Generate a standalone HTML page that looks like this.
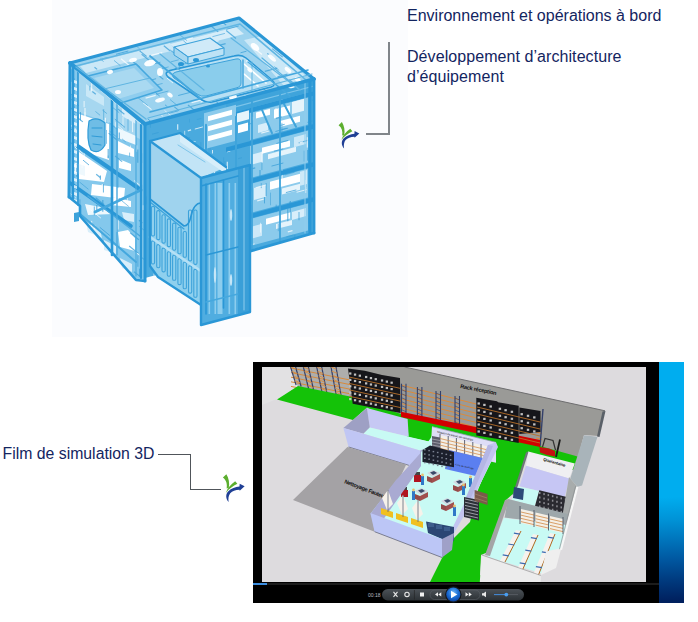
<!DOCTYPE html>
<html><head><meta charset="utf-8">
<style>
html,body{margin:0;padding:0;background:#fff;}
body{width:698px;height:622px;position:relative;overflow:hidden;font-family:"Liberation Sans",sans-serif;}
.t{position:absolute;white-space:nowrap;color:#13255f;font-family:"Liberation Sans",sans-serif;}
.abs{position:absolute;}
</style></head><body>
<!-- faint backdrop of CAD image -->
<div class="abs" style="left:52px;top:0;width:356px;height:337px;background:#fbfcfe"></div>

<!-- CAD model -->
<svg class="abs" style="left:0;top:0" width="400" height="340" viewBox="0 0 400 340" id="cad">
<polygon points="70.0,63.0 145.0,124.0 145.0,281.0 136.0,280.0 80.0,216.0 80.0,206.0 69.0,197.0" fill="#84c8ec" stroke="none" stroke-width="0" stroke-linejoin="round" opacity="1"/>
<polygon points="78.0,72.0 112.0,99.0 117.0,102.0 142.0,122.0 142.0,140.0 117.0,128.0 112.0,124.0 78.0,112.0" fill="#a6d7f0" stroke="none" stroke-width="0" stroke-linejoin="round" opacity="1"/>
<polygon points="86.0,84.0 104.0,97.0 104.0,106.0 86.0,96.0" fill="#c9e8f7" stroke="none" stroke-width="0" stroke-linejoin="round" opacity="1"/>
<polygon points="79.0,114.0 109.0,124.0 109.0,160.0 79.0,150.0" fill="#ffffff" stroke="none" stroke-width="0" stroke-linejoin="round" opacity="1"/>
<polygon points="118.0,128.0 136.0,136.0 136.0,145.0 118.0,138.0" fill="#eef8fd" stroke="none" stroke-width="0" stroke-linejoin="round" opacity="1"/>
<polygon points="79.0,152.0 107.0,171.0 104.0,182.0 79.0,179.0" fill="#ffffff" stroke="none" stroke-width="0" stroke-linejoin="round" opacity="1"/>
<polygon points="118.0,141.0 134.0,149.0 134.0,157.0 118.0,153.0" fill="#ffffff" stroke="none" stroke-width="0" stroke-linejoin="round" opacity="1"/>
<polygon points="119.0,159.0 131.0,164.0 131.0,171.0 119.0,168.0" fill="#ffffff" stroke="none" stroke-width="0" stroke-linejoin="round" opacity="1"/>
<polygon points="92.0,184.0 125.0,188.0 124.0,199.0 91.0,195.0" fill="#ffffff" stroke="none" stroke-width="0" stroke-linejoin="round" opacity="1"/>
<polygon points="111.0,197.0 131.0,201.0 131.0,207.0 111.0,205.0" fill="#ffffff" stroke="none" stroke-width="0" stroke-linejoin="round" opacity="1"/>
<polygon points="85.0,204.0 100.0,207.0 113.0,214.0 88.0,215.0" fill="#eef8fd" stroke="none" stroke-width="0" stroke-linejoin="round" opacity="1"/>
<polygon points="118.0,232.0 128.0,230.0 135.0,238.0 135.0,251.0 120.0,247.0" fill="#ffffff" stroke="none" stroke-width="0" stroke-linejoin="round" opacity="1"/>
<polygon points="73.0,162.0 85.0,166.0 85.0,176.0 73.0,172.0" fill="#eef8fd" stroke="none" stroke-width="0" stroke-linejoin="round" opacity="1"/>
<polygon points="122.0,212.0 134.0,214.0 134.0,222.0 124.0,220.0" fill="#d8eefa" stroke="none" stroke-width="0" stroke-linejoin="round" opacity="1"/>
<polygon points="86.0,222.0 100.0,230.0 102.0,238.0 88.0,232.0" fill="#d8eefa" stroke="none" stroke-width="0" stroke-linejoin="round" opacity="1"/>
<polygon points="104.0,240.0 116.0,246.0 116.0,254.0 104.0,250.0" fill="#d8eefa" stroke="none" stroke-width="0" stroke-linejoin="round" opacity="1"/>
<polygon points="120.0,258.0 132.0,264.0 132.0,272.0 122.0,268.0" fill="#d8eefa" stroke="none" stroke-width="0" stroke-linejoin="round" opacity="1"/>
<polygon points="122.0,104.0 136.0,114.0 136.0,124.0 122.0,116.0" fill="#d8eefa" stroke="none" stroke-width="0" stroke-linejoin="round" opacity="1"/>
<clipPath id="tl"><polygon points="70.0,63.0 145.0,124.0 145.0,281.0 136.0,280.0 80.0,216.0 80.0,206.0 69.0,197.0"/></clipPath>
<g clip-path="url(#tl)"><line x1="103.3" y1="184.3" x2="103.3" y2="192.4" stroke="#3a9fd8" stroke-width="1.2" opacity="0.75"/><line x1="82.8" y1="238.5" x2="75.2" y2="232.3" stroke="#ffffff" stroke-width="1.0" opacity="0.75"/><line x1="91.7" y1="80.1" x2="91.7" y2="90.8" stroke="#ffffff" stroke-width="1.0" opacity="0.75"/><line x1="143.3" y1="205.2" x2="143.3" y2="209.9" stroke="#ffffff" stroke-width="1.2" opacity="0.75"/><line x1="72.9" y1="67.9" x2="72.9" y2="77.5" stroke="#3a9fd8" stroke-width="1.0" opacity="0.75"/><line x1="102.4" y1="247.0" x2="102.4" y2="257.1" stroke="#3a9fd8" stroke-width="1.2" opacity="0.75"/><line x1="74.6" y1="205.4" x2="67.6" y2="199.6" stroke="#3a9fd8" stroke-width="0.8" opacity="0.75"/><line x1="123.2" y1="130.0" x2="118.4" y2="126.1" stroke="#ffffff" stroke-width="0.8" opacity="0.75"/><line x1="99.2" y1="247.9" x2="88.7" y2="239.4" stroke="#3a9fd8" stroke-width="0.8" opacity="0.75"/><line x1="84.7" y1="265.8" x2="79.1" y2="261.3" stroke="#3a9fd8" stroke-width="1.0" opacity="0.75"/><line x1="73.7" y1="199.7" x2="73.7" y2="205.7" stroke="#ffffff" stroke-width="1.0" opacity="0.75"/><line x1="69.2" y1="151.0" x2="69.2" y2="155.5" stroke="#3a9fd8" stroke-width="0.8" opacity="0.75"/><line x1="72.7" y1="236.9" x2="65.6" y2="231.2" stroke="#3a9fd8" stroke-width="0.8" opacity="0.75"/><line x1="144.9" y1="230.8" x2="139.2" y2="226.3" stroke="#3a9fd8" stroke-width="0.8" opacity="0.75"/><line x1="68.0" y1="251.9" x2="68.0" y2="261.4" stroke="#3a9fd8" stroke-width="0.8" opacity="0.75"/><line x1="84.4" y1="147.5" x2="84.4" y2="157.6" stroke="#ffffff" stroke-width="0.8" opacity="0.75"/><line x1="84.6" y1="117.3" x2="84.6" y2="124.0" stroke="#ffffff" stroke-width="0.8" opacity="0.75"/><line x1="73.8" y1="106.3" x2="73.8" y2="109.5" stroke="#3a9fd8" stroke-width="1.2" opacity="0.75"/><line x1="103.4" y1="272.9" x2="96.1" y2="267.0" stroke="#3a9fd8" stroke-width="0.8" opacity="0.75"/><line x1="116.9" y1="129.0" x2="109.4" y2="122.9" stroke="#3a9fd8" stroke-width="0.8" opacity="0.75"/><line x1="125.7" y1="268.8" x2="115.2" y2="260.3" stroke="#3a9fd8" stroke-width="1.2" opacity="0.75"/><line x1="74.1" y1="70.5" x2="67.4" y2="65.1" stroke="#ffffff" stroke-width="1.2" opacity="0.75"/><line x1="123.0" y1="117.0" x2="123.0" y2="126.6" stroke="#ffffff" stroke-width="0.8" opacity="0.75"/><line x1="140.5" y1="276.9" x2="134.1" y2="271.7" stroke="#3a9fd8" stroke-width="1.2" opacity="0.75"/><line x1="115.9" y1="122.2" x2="115.9" y2="127.5" stroke="#ffffff" stroke-width="1.0" opacity="0.75"/><line x1="100.1" y1="115.3" x2="95.4" y2="111.4" stroke="#3a9fd8" stroke-width="0.8" opacity="0.75"/><line x1="75.2" y1="90.7" x2="70.0" y2="86.5" stroke="#3a9fd8" stroke-width="1.2" opacity="0.75"/><line x1="113.6" y1="91.2" x2="111.1" y2="89.1" stroke="#3a9fd8" stroke-width="1.2" opacity="0.75"/><line x1="92.3" y1="67.4" x2="92.3" y2="71.3" stroke="#ffffff" stroke-width="1.0" opacity="0.75"/><line x1="92.9" y1="281.9" x2="85.9" y2="276.2" stroke="#3a9fd8" stroke-width="1.2" opacity="0.75"/><line x1="125.5" y1="88.8" x2="125.5" y2="95.5" stroke="#ffffff" stroke-width="1.0" opacity="0.75"/><line x1="138.3" y1="253.4" x2="129.2" y2="246.0" stroke="#3a9fd8" stroke-width="1.2" opacity="0.75"/><line x1="69.1" y1="207.0" x2="66.7" y2="205.0" stroke="#ffffff" stroke-width="0.8" opacity="0.75"/><line x1="117.9" y1="280.5" x2="117.9" y2="291.5" stroke="#3a9fd8" stroke-width="1.2" opacity="0.75"/><line x1="122.1" y1="161.6" x2="115.2" y2="156.0" stroke="#3a9fd8" stroke-width="1.2" opacity="0.75"/><line x1="70.3" y1="193.5" x2="66.0" y2="190.0" stroke="#3a9fd8" stroke-width="1.0" opacity="0.75"/><line x1="128.8" y1="206.5" x2="118.9" y2="198.4" stroke="#3a9fd8" stroke-width="0.8" opacity="0.75"/><line x1="120.9" y1="105.0" x2="110.8" y2="96.8" stroke="#3a9fd8" stroke-width="1.0" opacity="0.75"/><line x1="106.9" y1="113.6" x2="102.4" y2="110.0" stroke="#3a9fd8" stroke-width="0.8" opacity="0.75"/><line x1="136.7" y1="145.3" x2="136.7" y2="151.8" stroke="#ffffff" stroke-width="1.0" opacity="0.75"/><line x1="95.4" y1="258.8" x2="92.5" y2="256.5" stroke="#3a9fd8" stroke-width="0.8" opacity="0.75"/><line x1="76.8" y1="164.6" x2="76.8" y2="176.8" stroke="#3a9fd8" stroke-width="1.2" opacity="0.75"/><line x1="106.5" y1="130.0" x2="106.5" y2="143.8" stroke="#3a9fd8" stroke-width="0.8" opacity="0.75"/><line x1="132.6" y1="121.7" x2="132.6" y2="132.2" stroke="#ffffff" stroke-width="1.0" opacity="0.75"/><line x1="92.1" y1="235.7" x2="88.6" y2="232.9" stroke="#3a9fd8" stroke-width="0.8" opacity="0.75"/><line x1="128.0" y1="119.1" x2="128.0" y2="130.9" stroke="#3a9fd8" stroke-width="0.8" opacity="0.75"/><line x1="102.8" y1="199.9" x2="102.8" y2="211.7" stroke="#3a9fd8" stroke-width="1.2" opacity="0.75"/><line x1="83.4" y1="242.9" x2="75.0" y2="236.0" stroke="#3a9fd8" stroke-width="1.2" opacity="0.75"/><line x1="123.7" y1="99.8" x2="118.4" y2="95.5" stroke="#3a9fd8" stroke-width="1.2" opacity="0.75"/><line x1="107.0" y1="281.3" x2="97.5" y2="273.5" stroke="#3a9fd8" stroke-width="0.8" opacity="0.75"/><line x1="74.8" y1="267.0" x2="74.8" y2="271.5" stroke="#3a9fd8" stroke-width="1.2" opacity="0.75"/><line x1="137.2" y1="61.5" x2="137.2" y2="71.7" stroke="#3a9fd8" stroke-width="1.0" opacity="0.75"/><line x1="104.2" y1="204.6" x2="95.7" y2="197.7" stroke="#3a9fd8" stroke-width="1.2" opacity="0.75"/><line x1="140.1" y1="87.4" x2="134.4" y2="82.8" stroke="#ffffff" stroke-width="1.0" opacity="0.75"/><line x1="109.9" y1="235.6" x2="99.8" y2="227.3" stroke="#3a9fd8" stroke-width="1.0" opacity="0.75"/><line x1="107.4" y1="68.2" x2="101.4" y2="63.4" stroke="#ffffff" stroke-width="0.8" opacity="0.75"/><line x1="85.0" y1="252.6" x2="82.4" y2="250.5" stroke="#3a9fd8" stroke-width="1.2" opacity="0.75"/><line x1="129.5" y1="91.2" x2="122.7" y2="85.7" stroke="#3a9fd8" stroke-width="1.2" opacity="0.75"/><line x1="121.8" y1="270.0" x2="111.3" y2="261.5" stroke="#ffffff" stroke-width="0.8" opacity="0.75"/><line x1="102.3" y1="184.0" x2="102.3" y2="193.2" stroke="#ffffff" stroke-width="1.2" opacity="0.75"/><line x1="133.8" y1="184.3" x2="128.2" y2="179.8" stroke="#3a9fd8" stroke-width="1.2" opacity="0.75"/><line x1="84.2" y1="248.9" x2="84.2" y2="257.6" stroke="#3a9fd8" stroke-width="0.8" opacity="0.75"/><line x1="100.1" y1="85.4" x2="94.5" y2="80.9" stroke="#3a9fd8" stroke-width="0.8" opacity="0.75"/><line x1="108.2" y1="148.9" x2="108.2" y2="158.1" stroke="#3a9fd8" stroke-width="1.2" opacity="0.75"/><line x1="81.0" y1="266.6" x2="70.8" y2="258.4" stroke="#3a9fd8" stroke-width="1.0" opacity="0.75"/><line x1="89.0" y1="165.0" x2="83.0" y2="160.1" stroke="#3a9fd8" stroke-width="1.0" opacity="0.75"/><line x1="108.9" y1="84.1" x2="106.4" y2="82.0" stroke="#ffffff" stroke-width="1.2" opacity="0.75"/><line x1="128.8" y1="65.1" x2="124.5" y2="61.6" stroke="#3a9fd8" stroke-width="1.0" opacity="0.75"/><line x1="124.4" y1="114.3" x2="117.8" y2="108.9" stroke="#3a9fd8" stroke-width="1.2" opacity="0.75"/><line x1="116.6" y1="219.3" x2="116.6" y2="232.0" stroke="#ffffff" stroke-width="1.2" opacity="0.75"/><line x1="100.2" y1="177.5" x2="96.2" y2="174.2" stroke="#3a9fd8" stroke-width="1.2" opacity="0.75"/><line x1="85.0" y1="108.0" x2="85.0" y2="117.4" stroke="#ffffff" stroke-width="1.2" opacity="0.75"/><line x1="117.0" y1="137.2" x2="109.5" y2="131.1" stroke="#3a9fd8" stroke-width="0.8" opacity="0.75"/><line x1="85.0" y1="281.6" x2="85.0" y2="286.1" stroke="#ffffff" stroke-width="1.2" opacity="0.75"/><line x1="74.9" y1="146.1" x2="64.5" y2="137.7" stroke="#3a9fd8" stroke-width="1.2" opacity="0.75"/><line x1="77.8" y1="149.4" x2="77.8" y2="152.6" stroke="#ffffff" stroke-width="1.2" opacity="0.75"/><line x1="95.9" y1="242.3" x2="87.6" y2="235.5" stroke="#3a9fd8" stroke-width="1.0" opacity="0.75"/><line x1="107.2" y1="212.2" x2="104.3" y2="209.8" stroke="#ffffff" stroke-width="0.8" opacity="0.75"/><line x1="127.4" y1="196.2" x2="127.4" y2="204.5" stroke="#ffffff" stroke-width="0.8" opacity="0.75"/><line x1="83.9" y1="246.5" x2="83.9" y2="259.7" stroke="#ffffff" stroke-width="0.8" opacity="0.75"/><line x1="78.5" y1="211.2" x2="75.3" y2="208.6" stroke="#3a9fd8" stroke-width="1.0" opacity="0.75"/><line x1="108.2" y1="155.5" x2="108.2" y2="158.6" stroke="#3a9fd8" stroke-width="0.8" opacity="0.75"/><line x1="82.1" y1="160.8" x2="82.1" y2="168.2" stroke="#ffffff" stroke-width="0.8" opacity="0.75"/><line x1="75.4" y1="235.9" x2="72.3" y2="233.4" stroke="#3a9fd8" stroke-width="1.2" opacity="0.75"/><line x1="141.3" y1="186.5" x2="134.0" y2="180.5" stroke="#ffffff" stroke-width="1.0" opacity="0.75"/><line x1="89.8" y1="85.8" x2="89.8" y2="90.6" stroke="#3a9fd8" stroke-width="0.8" opacity="0.75"/><line x1="137.9" y1="255.3" x2="137.9" y2="266.8" stroke="#3a9fd8" stroke-width="1.0" opacity="0.75"/><line x1="84.1" y1="101.0" x2="84.1" y2="107.3" stroke="#ffffff" stroke-width="1.0" opacity="0.75"/><line x1="145.3" y1="260.4" x2="140.6" y2="256.6" stroke="#3a9fd8" stroke-width="1.0" opacity="0.75"/><line x1="94.3" y1="206.5" x2="94.3" y2="215.3" stroke="#3a9fd8" stroke-width="1.0" opacity="0.75"/><line x1="118.1" y1="215.7" x2="118.1" y2="229.5" stroke="#ffffff" stroke-width="1.2" opacity="0.75"/><line x1="76.4" y1="112.6" x2="69.8" y2="107.2" stroke="#3a9fd8" stroke-width="1.2" opacity="0.75"/><line x1="97.3" y1="81.9" x2="87.2" y2="73.7" stroke="#3a9fd8" stroke-width="1.2" opacity="0.75"/><line x1="100.4" y1="175.6" x2="100.4" y2="179.7" stroke="#3a9fd8" stroke-width="1.2" opacity="0.75"/><line x1="73.9" y1="192.7" x2="73.9" y2="196.1" stroke="#3a9fd8" stroke-width="0.8" opacity="0.75"/><line x1="98.1" y1="275.4" x2="98.1" y2="284.3" stroke="#3a9fd8" stroke-width="1.0" opacity="0.75"/><line x1="141.7" y1="153.4" x2="141.7" y2="163.0" stroke="#3a9fd8" stroke-width="1.0" opacity="0.75"/><line x1="105.7" y1="119.9" x2="105.7" y2="130.2" stroke="#3a9fd8" stroke-width="0.8" opacity="0.75"/><line x1="69.1" y1="114.4" x2="65.4" y2="111.4" stroke="#3a9fd8" stroke-width="1.0" opacity="0.75"/><line x1="72.1" y1="130.0" x2="64.8" y2="124.0" stroke="#3a9fd8" stroke-width="1.0" opacity="0.75"/><line x1="73.7" y1="261.0" x2="67.3" y2="255.8" stroke="#3a9fd8" stroke-width="0.8" opacity="0.75"/><line x1="71.5" y1="81.9" x2="71.5" y2="94.9" stroke="#ffffff" stroke-width="0.8" opacity="0.75"/><line x1="115.1" y1="85.6" x2="115.1" y2="93.6" stroke="#ffffff" stroke-width="0.8" opacity="0.75"/><line x1="95.8" y1="94.3" x2="92.3" y2="91.5" stroke="#3a9fd8" stroke-width="1.2" opacity="0.75"/><line x1="88.4" y1="189.3" x2="79.5" y2="182.0" stroke="#3a9fd8" stroke-width="0.8" opacity="0.75"/><line x1="142.3" y1="223.0" x2="139.0" y2="220.3" stroke="#3a9fd8" stroke-width="1.2" opacity="0.75"/><line x1="116.7" y1="139.7" x2="108.6" y2="133.1" stroke="#3a9fd8" stroke-width="1.2" opacity="0.75"/><line x1="82.8" y1="121.9" x2="72.4" y2="113.4" stroke="#3a9fd8" stroke-width="1.2" opacity="0.75"/><line x1="139.4" y1="255.1" x2="136.6" y2="252.8" stroke="#ffffff" stroke-width="1.0" opacity="0.75"/><line x1="70.1" y1="68.4" x2="65.4" y2="64.6" stroke="#3a9fd8" stroke-width="1.2" opacity="0.75"/><line x1="80.5" y1="112.1" x2="80.5" y2="120.4" stroke="#3a9fd8" stroke-width="1.0" opacity="0.75"/><line x1="94.8" y1="225.4" x2="94.8" y2="229.2" stroke="#ffffff" stroke-width="1.2" opacity="0.75"/><line x1="133.4" y1="230.7" x2="124.7" y2="223.6" stroke="#3a9fd8" stroke-width="0.8" opacity="0.75"/><line x1="96.8" y1="205.1" x2="96.8" y2="211.7" stroke="#3a9fd8" stroke-width="1.2" opacity="0.75"/><line x1="132.4" y1="100.8" x2="132.4" y2="110.2" stroke="#3a9fd8" stroke-width="1.0" opacity="0.75"/><line x1="74.1" y1="78.4" x2="74.1" y2="86.8" stroke="#3a9fd8" stroke-width="1.0" opacity="0.75"/><line x1="132.2" y1="62.1" x2="122.1" y2="53.8" stroke="#3a9fd8" stroke-width="1.2" opacity="0.75"/><line x1="91.7" y1="220.9" x2="91.7" y2="227.1" stroke="#ffffff" stroke-width="1.0" opacity="0.75"/><line x1="119.3" y1="132.6" x2="119.3" y2="139.2" stroke="#3a9fd8" stroke-width="1.2" opacity="0.75"/><line x1="139.6" y1="268.7" x2="139.6" y2="276.5" stroke="#3a9fd8" stroke-width="1.0" opacity="0.75"/><line x1="103.7" y1="109.1" x2="103.7" y2="120.1" stroke="#3a9fd8" stroke-width="0.8" opacity="0.75"/><line x1="96.2" y1="141.2" x2="90.5" y2="136.5" stroke="#3a9fd8" stroke-width="0.8" opacity="0.75"/><line x1="125.6" y1="141.8" x2="122.0" y2="138.8" stroke="#3a9fd8" stroke-width="0.8" opacity="0.75"/><line x1="81.8" y1="228.5" x2="81.8" y2="234.6" stroke="#ffffff" stroke-width="1.2" opacity="0.75"/><line x1="72.5" y1="95.2" x2="70.0" y2="93.2" stroke="#3a9fd8" stroke-width="1.0" opacity="0.75"/><line x1="73.0" y1="181.4" x2="73.0" y2="185.3" stroke="#ffffff" stroke-width="1.2" opacity="0.75"/><line x1="76.2" y1="129.7" x2="68.3" y2="123.2" stroke="#ffffff" stroke-width="1.2" opacity="0.75"/><line x1="100.9" y1="218.1" x2="90.8" y2="209.9" stroke="#ffffff" stroke-width="1.0" opacity="0.75"/><line x1="98.8" y1="135.0" x2="98.8" y2="145.4" stroke="#3a9fd8" stroke-width="1.2" opacity="0.75"/><line x1="130.8" y1="76.1" x2="130.8" y2="79.6" stroke="#3a9fd8" stroke-width="1.2" opacity="0.75"/><line x1="95.2" y1="60.9" x2="92.1" y2="58.3" stroke="#3a9fd8" stroke-width="1.2" opacity="0.75"/><line x1="117.9" y1="176.3" x2="117.9" y2="188.1" stroke="#3a9fd8" stroke-width="1.0" opacity="0.75"/><line x1="139.4" y1="114.5" x2="131.7" y2="108.2" stroke="#3a9fd8" stroke-width="1.0" opacity="0.75"/><line x1="83.9" y1="154.3" x2="73.3" y2="145.7" stroke="#ffffff" stroke-width="1.0" opacity="0.75"/><line x1="125.0" y1="127.4" x2="114.8" y2="119.1" stroke="#3a9fd8" stroke-width="1.0" opacity="0.75"/><line x1="69.3" y1="166.8" x2="69.3" y2="173.2" stroke="#ffffff" stroke-width="1.0" opacity="0.75"/><line x1="85.0" y1="112.3" x2="85.0" y2="121.8" stroke="#ffffff" stroke-width="0.8" opacity="0.75"/><line x1="137.8" y1="149.4" x2="137.8" y2="162.7" stroke="#3a9fd8" stroke-width="1.2" opacity="0.75"/><line x1="105.4" y1="117.8" x2="105.4" y2="130.9" stroke="#ffffff" stroke-width="1.2" opacity="0.75"/><line x1="128.2" y1="80.5" x2="128.2" y2="87.9" stroke="#ffffff" stroke-width="0.8" opacity="0.75"/><line x1="130.5" y1="145.5" x2="130.5" y2="154.1" stroke="#ffffff" stroke-width="0.8" opacity="0.75"/><line x1="119.3" y1="112.8" x2="112.9" y2="107.6" stroke="#3a9fd8" stroke-width="0.8" opacity="0.75"/><line x1="123.6" y1="194.5" x2="120.0" y2="191.6" stroke="#ffffff" stroke-width="1.0" opacity="0.75"/><line x1="138.8" y1="239.8" x2="130.2" y2="232.8" stroke="#3a9fd8" stroke-width="1.2" opacity="0.75"/><line x1="109.7" y1="93.4" x2="109.7" y2="96.5" stroke="#3a9fd8" stroke-width="0.8" opacity="0.75"/><line x1="132.1" y1="78.3" x2="123.7" y2="71.4" stroke="#ffffff" stroke-width="1.0" opacity="0.75"/><line x1="122.1" y1="78.4" x2="122.1" y2="87.4" stroke="#3a9fd8" stroke-width="0.8" opacity="0.75"/><line x1="129.6" y1="152.6" x2="129.6" y2="156.6" stroke="#3a9fd8" stroke-width="0.8" opacity="0.75"/><line x1="70.9" y1="151.7" x2="60.5" y2="143.3" stroke="#3a9fd8" stroke-width="1.0" opacity="0.75"/><line x1="92.2" y1="76.9" x2="85.9" y2="71.7" stroke="#3a9fd8" stroke-width="1.0" opacity="0.75"/><line x1="73.8" y1="91.2" x2="73.8" y2="101.6" stroke="#3a9fd8" stroke-width="0.8" opacity="0.75"/><line x1="119.0" y1="62.7" x2="110.6" y2="55.9" stroke="#ffffff" stroke-width="1.2" opacity="0.75"/><line x1="76.8" y1="231.3" x2="76.8" y2="243.6" stroke="#3a9fd8" stroke-width="1.2" opacity="0.75"/><line x1="79.9" y1="199.4" x2="79.9" y2="210.6" stroke="#3a9fd8" stroke-width="1.0" opacity="0.75"/><line x1="111.3" y1="79.3" x2="105.8" y2="74.8" stroke="#ffffff" stroke-width="1.0" opacity="0.75"/><line x1="141.7" y1="184.9" x2="141.7" y2="191.6" stroke="#3a9fd8" stroke-width="0.8" opacity="0.75"/><line x1="75.9" y1="198.0" x2="68.2" y2="191.8" stroke="#ffffff" stroke-width="0.8" opacity="0.75"/><line x1="99.4" y1="245.8" x2="99.4" y2="249.8" stroke="#ffffff" stroke-width="0.8" opacity="0.75"/><line x1="145.0" y1="156.3" x2="145.0" y2="163.1" stroke="#3a9fd8" stroke-width="1.2" opacity="0.75"/><line x1="78.8" y1="105.6" x2="70.6" y2="98.9" stroke="#3a9fd8" stroke-width="1.0" opacity="0.75"/></g>
<path d="M89,121 Q97,116 105,123 L105,145 Q99,155 91,150 Q86,140 89,121 Z" fill="#6fbde6" stroke="#2f9bd7" stroke-width="1.2" opacity="1" stroke-linejoin="round"/>
<line x1="92.0" y1="128.0" x2="102.0" y2="128.0" stroke="#2f9bd7" stroke-width="1" opacity="1" stroke-linecap="round"/>
<line x1="92.0" y1="136.0" x2="102.0" y2="137.0" stroke="#2f9bd7" stroke-width="1" opacity="1" stroke-linecap="round"/>
<line x1="93.0" y1="144.0" x2="101.0" y2="145.0" stroke="#2f9bd7" stroke-width="1" opacity="1" stroke-linecap="round"/>
<line x1="77.6" y1="146.0" x2="138.0" y2="188.0" stroke="#2a97d6" stroke-width="4" opacity="1" stroke-linecap="round"/>
<line x1="70.0" y1="183.0" x2="131.0" y2="226.0" stroke="#2a97d6" stroke-width="3.6" opacity="1" stroke-linecap="round"/>
<line x1="95.0" y1="212.0" x2="141.0" y2="190.0" stroke="#45a8de" stroke-width="3" opacity="1" stroke-linecap="round"/>
<line x1="80.0" y1="214.0" x2="136.0" y2="262.0" stroke="#45a8de" stroke-width="2" opacity="1" stroke-linecap="round"/>
<line x1="88.0" y1="196.0" x2="140.0" y2="236.0" stroke="#4aa9de" stroke-width="1.4" opacity="1" stroke-linecap="round"/>
<line x1="112.0" y1="98.0" x2="112.0" y2="255.0" stroke="#2a97d6" stroke-width="2.6" opacity="1" stroke-linecap="round"/>
<line x1="117.0" y1="102.0" x2="117.0" y2="255.0" stroke="#4aa9de" stroke-width="1.4" opacity="1" stroke-linecap="round"/>
<line x1="73.0" y1="68.0" x2="73.0" y2="198.0" stroke="#2a97d6" stroke-width="2.6" opacity="1" stroke-linecap="round"/>
<line x1="78.0" y1="72.0" x2="78.0" y2="205.0" stroke="#2a97d6" stroke-width="1.6" opacity="1" stroke-linecap="round"/>
<polygon points="74.0,80.0 77.0,81.0 77.0,84.0 74.0,83.0" fill="#ffffff" stroke="none" stroke-width="0" stroke-linejoin="round" opacity="0.75"/>
<polygon points="74.0,87.0 77.0,88.0 77.0,91.0 74.0,90.0" fill="#ffffff" stroke="none" stroke-width="0" stroke-linejoin="round" opacity="0.75"/>
<polygon points="74.0,94.0 77.0,95.0 77.0,98.0 74.0,97.0" fill="#ffffff" stroke="none" stroke-width="0" stroke-linejoin="round" opacity="0.75"/>
<polygon points="74.0,101.0 77.0,102.0 77.0,105.0 74.0,104.0" fill="#ffffff" stroke="none" stroke-width="0" stroke-linejoin="round" opacity="0.75"/>
<polygon points="74.0,108.0 77.0,109.0 77.0,112.0 74.0,111.0" fill="#ffffff" stroke="none" stroke-width="0" stroke-linejoin="round" opacity="0.75"/>
<polygon points="74.0,115.0 77.0,116.0 77.0,119.0 74.0,118.0" fill="#ffffff" stroke="none" stroke-width="0" stroke-linejoin="round" opacity="0.75"/>
<polygon points="74.0,122.0 77.0,123.0 77.0,126.0 74.0,125.0" fill="#ffffff" stroke="none" stroke-width="0" stroke-linejoin="round" opacity="0.75"/>
<polygon points="74.0,129.0 77.0,130.0 77.0,133.0 74.0,132.0" fill="#ffffff" stroke="none" stroke-width="0" stroke-linejoin="round" opacity="0.75"/>
<polygon points="74.0,136.0 77.0,137.0 77.0,140.0 74.0,139.0" fill="#ffffff" stroke="none" stroke-width="0" stroke-linejoin="round" opacity="0.75"/>
<polygon points="74.0,143.0 77.0,144.0 77.0,147.0 74.0,146.0" fill="#ffffff" stroke="none" stroke-width="0" stroke-linejoin="round" opacity="0.75"/>
<polygon points="74.0,150.0 77.0,151.0 77.0,154.0 74.0,153.0" fill="#ffffff" stroke="none" stroke-width="0" stroke-linejoin="round" opacity="0.75"/>
<polygon points="74.0,157.0 77.0,158.0 77.0,161.0 74.0,160.0" fill="#ffffff" stroke="none" stroke-width="0" stroke-linejoin="round" opacity="0.75"/>
<polygon points="74.0,164.0 77.0,165.0 77.0,168.0 74.0,167.0" fill="#ffffff" stroke="none" stroke-width="0" stroke-linejoin="round" opacity="0.75"/>
<polygon points="74.0,171.0 77.0,172.0 77.0,175.0 74.0,174.0" fill="#ffffff" stroke="none" stroke-width="0" stroke-linejoin="round" opacity="0.75"/>
<polygon points="74.0,178.0 77.0,179.0 77.0,182.0 74.0,181.0" fill="#ffffff" stroke="none" stroke-width="0" stroke-linejoin="round" opacity="0.75"/>
<polygon points="74.0,185.0 77.0,186.0 77.0,189.0 74.0,188.0" fill="#ffffff" stroke="none" stroke-width="0" stroke-linejoin="round" opacity="0.75"/>
<polygon points="74.0,192.0 77.0,193.0 77.0,196.0 74.0,195.0" fill="#ffffff" stroke="none" stroke-width="0" stroke-linejoin="round" opacity="0.75"/>
<polygon points="74.0,199.0 77.0,200.0 77.0,203.0 74.0,202.0" fill="#ffffff" stroke="none" stroke-width="0" stroke-linejoin="round" opacity="0.75"/>
<line x1="141.0" y1="124.0" x2="141.0" y2="278.0" stroke="#2a97d6" stroke-width="2.2" opacity="1" stroke-linecap="round"/>
<line x1="136.0" y1="120.0" x2="136.0" y2="276.0" stroke="#4aa9de" stroke-width="1.2" opacity="1" stroke-linecap="round"/>
<line x1="76.0" y1="70.0" x2="141.0" y2="124.0" stroke="#d5ecf8" stroke-width="1.0" opacity="1" stroke-linecap="round"/>
<polygon points="145.0,124.0 314.0,79.0 314.0,233.0 145.0,278.0" fill="#4aaade" stroke="none" stroke-width="0" stroke-linejoin="round" opacity="1"/>
<polygon points="250.0,113.0 308.0,97.6 308.0,124.6 250.0,140.0" fill="#8ccbec" stroke="none" stroke-width="0" stroke-linejoin="round" opacity="1"/>
<polygon points="250.0,146.0 308.0,130.6 308.0,162.6 250.0,178.0" fill="#8ccbec" stroke="none" stroke-width="0" stroke-linejoin="round" opacity="1"/>
<polygon points="250.0,184.0 308.0,168.6 308.0,197.6 250.0,213.0" fill="#8ccbec" stroke="none" stroke-width="0" stroke-linejoin="round" opacity="1"/>
<polygon points="250.0,219.0 308.0,203.6 308.0,230.6 250.0,246.0" fill="#8ccbec" stroke="none" stroke-width="0" stroke-linejoin="round" opacity="1"/>
<polygon points="256.0,112.4 270.0,108.7 270.0,114.7 256.0,118.4" fill="#ffffff" stroke="none" stroke-width="0" stroke-linejoin="round" opacity="1"/>
<polygon points="274.0,109.6 290.0,105.4 290.0,114.4 274.0,118.6" fill="#ffffff" stroke="none" stroke-width="0" stroke-linejoin="round" opacity="1"/>
<polygon points="292.0,101.9 304.0,98.7 304.0,110.7 292.0,113.9" fill="#e6f4fb" stroke="none" stroke-width="0" stroke-linejoin="round" opacity="1"/>
<polygon points="258.0,124.9 268.0,122.2 268.0,130.2 258.0,132.9" fill="#d8eefa" stroke="none" stroke-width="0" stroke-linejoin="round" opacity="1"/>
<polygon points="280.0,121.0 300.0,115.7 300.0,121.7 280.0,127.0" fill="#ffffff" stroke="none" stroke-width="0" stroke-linejoin="round" opacity="1"/>
<polygon points="262.0,147.8 290.0,140.4 290.0,146.4 262.0,153.8" fill="#ffffff" stroke="none" stroke-width="0" stroke-linejoin="round" opacity="1"/>
<polygon points="268.0,154.2 296.0,146.8 296.0,151.8 268.0,159.2" fill="#e6f4fb" stroke="none" stroke-width="0" stroke-linejoin="round" opacity="1"/>
<polygon points="294.0,137.3 306.0,134.1 306.0,144.1 294.0,147.3" fill="#cde9f8" stroke="none" stroke-width="0" stroke-linejoin="round" opacity="1"/>
<polygon points="252.0,154.5 262.0,151.8 262.0,161.8 252.0,164.5" fill="#d8eefa" stroke="none" stroke-width="0" stroke-linejoin="round" opacity="1"/>
<polygon points="270.0,181.7 302.0,173.2 302.0,181.2 270.0,189.7" fill="#ffffff" stroke="none" stroke-width="0" stroke-linejoin="round" opacity="1"/>
<polygon points="282.0,188.5 300.0,183.7 300.0,189.7 282.0,194.5" fill="#e6f4fb" stroke="none" stroke-width="0" stroke-linejoin="round" opacity="1"/>
<polygon points="254.0,188.0 266.0,184.8 266.0,196.8 254.0,200.0" fill="#d8eefa" stroke="none" stroke-width="0" stroke-linejoin="round" opacity="1"/>
<polygon points="300.0,171.7 307.0,169.9 307.0,183.9 300.0,185.7" fill="#cde9f8" stroke="none" stroke-width="0" stroke-linejoin="round" opacity="1"/>
<polygon points="266.0,218.8 290.0,212.4 290.0,218.4 266.0,224.8" fill="#ffffff" stroke="none" stroke-width="0" stroke-linejoin="round" opacity="1"/>
<polygon points="276.0,224.1 292.0,219.9 292.0,224.9 276.0,229.1" fill="#e6f4fb" stroke="none" stroke-width="0" stroke-linejoin="round" opacity="1"/>
<polygon points="292.0,211.9 306.0,208.1 306.0,216.1 292.0,219.9" fill="#d8eefa" stroke="none" stroke-width="0" stroke-linejoin="round" opacity="1"/>
<polygon points="252.0,226.5 262.0,223.8 262.0,235.8 252.0,238.5" fill="#cde9f8" stroke="none" stroke-width="0" stroke-linejoin="round" opacity="1"/>
<line x1="262.0" y1="109.8" x2="272.0" y2="133.2" stroke="#3fa4db" stroke-width="2" opacity="1" stroke-linecap="round"/>
<line x1="284.0" y1="104.0" x2="296.0" y2="126.8" stroke="#3fa4db" stroke-width="2" opacity="1" stroke-linecap="round"/>
<clipPath id="tr"><polygon points="145.0,124.0 314.0,79.0 314.0,233.0 145.0,278.0"/></clipPath>
<g clip-path="url(#tr)"><line x1="250.9" y1="224.8" x2="250.9" y2="231.3" stroke="#3a9fd8" stroke-width="0.8" opacity="0.75"/><line x1="257.2" y1="200.9" x2="263.7" y2="199.2" stroke="#ffffff" stroke-width="1.2" opacity="0.75"/><line x1="220.0" y1="190.6" x2="226.4" y2="188.8" stroke="#ffffff" stroke-width="0.8" opacity="0.75"/><line x1="248.9" y1="110.0" x2="248.9" y2="122.9" stroke="#3a9fd8" stroke-width="1.0" opacity="0.75"/><line x1="249.0" y1="181.7" x2="249.0" y2="186.9" stroke="#3a9fd8" stroke-width="1.2" opacity="0.75"/><line x1="265.2" y1="267.1" x2="265.2" y2="270.3" stroke="#3a9fd8" stroke-width="0.8" opacity="0.75"/><line x1="168.2" y1="174.5" x2="174.6" y2="172.8" stroke="#ffffff" stroke-width="1.0" opacity="0.75"/><line x1="190.2" y1="256.4" x2="200.9" y2="253.5" stroke="#ffffff" stroke-width="1.2" opacity="0.75"/><line x1="237.4" y1="191.3" x2="237.4" y2="197.2" stroke="#3a9fd8" stroke-width="1.0" opacity="0.75"/><line x1="247.3" y1="102.8" x2="247.3" y2="109.0" stroke="#3a9fd8" stroke-width="0.8" opacity="0.75"/><line x1="273.9" y1="151.3" x2="283.2" y2="148.9" stroke="#3a9fd8" stroke-width="1.0" opacity="0.75"/><line x1="150.4" y1="114.4" x2="150.4" y2="127.7" stroke="#3a9fd8" stroke-width="1.0" opacity="0.75"/><line x1="273.5" y1="249.2" x2="273.5" y2="258.9" stroke="#3a9fd8" stroke-width="0.8" opacity="0.75"/><line x1="172.0" y1="161.2" x2="180.5" y2="159.0" stroke="#ffffff" stroke-width="1.0" opacity="0.75"/><line x1="174.5" y1="183.0" x2="183.5" y2="180.6" stroke="#ffffff" stroke-width="1.2" opacity="0.75"/><line x1="278.3" y1="223.8" x2="278.3" y2="231.2" stroke="#3a9fd8" stroke-width="0.8" opacity="0.75"/><line x1="224.9" y1="161.1" x2="224.9" y2="171.7" stroke="#3a9fd8" stroke-width="1.0" opacity="0.75"/><line x1="227.6" y1="278.9" x2="227.6" y2="291.3" stroke="#3a9fd8" stroke-width="1.0" opacity="0.75"/><line x1="165.0" y1="101.2" x2="165.0" y2="107.8" stroke="#3a9fd8" stroke-width="1.0" opacity="0.75"/><line x1="298.7" y1="142.8" x2="309.3" y2="140.0" stroke="#3a9fd8" stroke-width="1.2" opacity="0.75"/><line x1="209.0" y1="143.0" x2="209.0" y2="155.7" stroke="#3a9fd8" stroke-width="0.8" opacity="0.75"/><line x1="166.2" y1="168.3" x2="166.2" y2="175.6" stroke="#ffffff" stroke-width="1.2" opacity="0.75"/><line x1="162.9" y1="261.8" x2="162.9" y2="272.0" stroke="#3a9fd8" stroke-width="0.8" opacity="0.75"/><line x1="314.9" y1="225.6" x2="314.9" y2="232.7" stroke="#3a9fd8" stroke-width="1.2" opacity="0.75"/><line x1="281.9" y1="122.8" x2="281.9" y2="132.0" stroke="#3a9fd8" stroke-width="0.8" opacity="0.75"/><line x1="233.3" y1="104.3" x2="233.3" y2="113.6" stroke="#3a9fd8" stroke-width="1.0" opacity="0.75"/><line x1="186.5" y1="138.5" x2="190.0" y2="137.5" stroke="#3a9fd8" stroke-width="1.2" opacity="0.75"/><line x1="212.5" y1="150.0" x2="212.5" y2="153.5" stroke="#ffffff" stroke-width="1.0" opacity="0.75"/><line x1="197.3" y1="178.7" x2="197.3" y2="192.4" stroke="#3a9fd8" stroke-width="0.8" opacity="0.75"/><line x1="179.5" y1="251.5" x2="179.5" y2="255.2" stroke="#ffffff" stroke-width="1.0" opacity="0.75"/><line x1="297.9" y1="81.2" x2="297.9" y2="91.9" stroke="#3a9fd8" stroke-width="1.2" opacity="0.75"/><line x1="252.5" y1="116.7" x2="252.5" y2="120.2" stroke="#ffffff" stroke-width="1.2" opacity="0.75"/><line x1="284.0" y1="272.2" x2="291.4" y2="270.2" stroke="#3a9fd8" stroke-width="1.0" opacity="0.75"/><line x1="263.3" y1="267.4" x2="267.1" y2="266.4" stroke="#ffffff" stroke-width="1.0" opacity="0.75"/><line x1="165.5" y1="217.6" x2="176.1" y2="214.8" stroke="#3a9fd8" stroke-width="1.0" opacity="0.75"/><line x1="279.4" y1="153.2" x2="279.4" y2="166.0" stroke="#3a9fd8" stroke-width="0.8" opacity="0.75"/><line x1="311.1" y1="258.9" x2="316.4" y2="257.5" stroke="#ffffff" stroke-width="1.2" opacity="0.75"/><line x1="160.3" y1="276.6" x2="168.8" y2="274.3" stroke="#3a9fd8" stroke-width="0.8" opacity="0.75"/><line x1="146.2" y1="196.5" x2="146.2" y2="204.1" stroke="#3a9fd8" stroke-width="0.8" opacity="0.75"/><line x1="193.5" y1="230.6" x2="199.3" y2="229.1" stroke="#3a9fd8" stroke-width="0.8" opacity="0.75"/><line x1="279.4" y1="108.5" x2="279.4" y2="118.3" stroke="#3a9fd8" stroke-width="1.2" opacity="0.75"/><line x1="210.4" y1="265.7" x2="215.2" y2="264.4" stroke="#3a9fd8" stroke-width="1.2" opacity="0.75"/><line x1="299.6" y1="142.8" x2="302.9" y2="141.9" stroke="#ffffff" stroke-width="1.2" opacity="0.75"/><line x1="261.3" y1="183.1" x2="261.3" y2="188.1" stroke="#3a9fd8" stroke-width="0.8" opacity="0.75"/><line x1="164.1" y1="166.0" x2="164.1" y2="175.0" stroke="#ffffff" stroke-width="1.2" opacity="0.75"/><line x1="279.5" y1="125.7" x2="284.7" y2="124.3" stroke="#3a9fd8" stroke-width="1.0" opacity="0.75"/><line x1="189.4" y1="118.9" x2="189.4" y2="122.5" stroke="#3a9fd8" stroke-width="0.8" opacity="0.75"/><line x1="200.3" y1="200.9" x2="200.3" y2="212.7" stroke="#3a9fd8" stroke-width="1.2" opacity="0.75"/><line x1="189.7" y1="239.3" x2="202.2" y2="236.0" stroke="#3a9fd8" stroke-width="1.2" opacity="0.75"/><line x1="243.5" y1="223.9" x2="243.5" y2="227.5" stroke="#3a9fd8" stroke-width="1.2" opacity="0.75"/><line x1="198.4" y1="203.5" x2="198.4" y2="209.4" stroke="#3a9fd8" stroke-width="0.8" opacity="0.75"/><line x1="255.5" y1="181.1" x2="261.0" y2="179.7" stroke="#3a9fd8" stroke-width="1.2" opacity="0.75"/><line x1="286.3" y1="236.9" x2="293.5" y2="235.0" stroke="#3a9fd8" stroke-width="0.8" opacity="0.75"/><line x1="264.6" y1="271.4" x2="275.6" y2="268.4" stroke="#3a9fd8" stroke-width="0.8" opacity="0.75"/><line x1="169.6" y1="170.0" x2="169.6" y2="173.4" stroke="#ffffff" stroke-width="1.2" opacity="0.75"/><line x1="169.1" y1="157.4" x2="176.5" y2="155.4" stroke="#ffffff" stroke-width="0.8" opacity="0.75"/><line x1="260.6" y1="222.8" x2="260.6" y2="232.6" stroke="#ffffff" stroke-width="0.8" opacity="0.75"/><line x1="238.8" y1="126.8" x2="251.6" y2="123.4" stroke="#3a9fd8" stroke-width="1.0" opacity="0.75"/><line x1="305.9" y1="264.5" x2="310.5" y2="263.3" stroke="#3a9fd8" stroke-width="0.8" opacity="0.75"/><line x1="270.4" y1="192.6" x2="270.4" y2="205.3" stroke="#3a9fd8" stroke-width="0.8" opacity="0.75"/><line x1="223.6" y1="157.4" x2="223.6" y2="164.6" stroke="#3a9fd8" stroke-width="0.8" opacity="0.75"/><line x1="216.1" y1="127.8" x2="216.1" y2="139.6" stroke="#3a9fd8" stroke-width="1.0" opacity="0.75"/><line x1="181.5" y1="172.5" x2="189.1" y2="170.4" stroke="#3a9fd8" stroke-width="1.2" opacity="0.75"/><line x1="175.9" y1="176.4" x2="175.9" y2="184.0" stroke="#ffffff" stroke-width="1.0" opacity="0.75"/><line x1="206.7" y1="133.5" x2="211.5" y2="132.2" stroke="#ffffff" stroke-width="1.0" opacity="0.75"/><line x1="241.5" y1="209.2" x2="245.5" y2="208.1" stroke="#ffffff" stroke-width="1.2" opacity="0.75"/><line x1="304.2" y1="150.7" x2="304.2" y2="161.6" stroke="#3a9fd8" stroke-width="0.8" opacity="0.75"/><line x1="314.7" y1="247.4" x2="326.6" y2="244.3" stroke="#3a9fd8" stroke-width="1.0" opacity="0.75"/><line x1="276.0" y1="182.9" x2="283.1" y2="181.0" stroke="#ffffff" stroke-width="0.8" opacity="0.75"/><line x1="176.9" y1="181.8" x2="182.0" y2="180.4" stroke="#3a9fd8" stroke-width="1.0" opacity="0.75"/><line x1="237.5" y1="105.5" x2="237.5" y2="111.3" stroke="#3a9fd8" stroke-width="1.2" opacity="0.75"/><line x1="209.1" y1="255.8" x2="209.1" y2="264.7" stroke="#3a9fd8" stroke-width="0.8" opacity="0.75"/><line x1="210.7" y1="252.9" x2="216.7" y2="251.3" stroke="#ffffff" stroke-width="0.8" opacity="0.75"/><line x1="168.9" y1="249.3" x2="168.9" y2="257.6" stroke="#ffffff" stroke-width="1.2" opacity="0.75"/><line x1="195.7" y1="213.4" x2="195.7" y2="218.8" stroke="#3a9fd8" stroke-width="1.2" opacity="0.75"/><line x1="165.8" y1="234.5" x2="177.0" y2="231.5" stroke="#ffffff" stroke-width="1.0" opacity="0.75"/><line x1="165.4" y1="177.6" x2="178.2" y2="174.2" stroke="#ffffff" stroke-width="1.2" opacity="0.75"/><line x1="192.6" y1="110.0" x2="200.5" y2="107.9" stroke="#ffffff" stroke-width="1.2" opacity="0.75"/><line x1="266.1" y1="183.1" x2="266.1" y2="196.1" stroke="#3a9fd8" stroke-width="1.0" opacity="0.75"/><line x1="244.0" y1="219.7" x2="244.0" y2="230.4" stroke="#ffffff" stroke-width="1.0" opacity="0.75"/><line x1="165.5" y1="261.8" x2="165.5" y2="267.7" stroke="#3a9fd8" stroke-width="1.2" opacity="0.75"/><line x1="196.0" y1="223.3" x2="196.0" y2="227.1" stroke="#ffffff" stroke-width="1.0" opacity="0.75"/><line x1="296.6" y1="192.3" x2="306.6" y2="189.6" stroke="#ffffff" stroke-width="1.0" opacity="0.75"/><line x1="210.4" y1="147.0" x2="210.4" y2="150.3" stroke="#3a9fd8" stroke-width="0.8" opacity="0.75"/><line x1="276.2" y1="204.7" x2="276.2" y2="212.2" stroke="#3a9fd8" stroke-width="1.0" opacity="0.75"/><line x1="156.6" y1="171.7" x2="169.8" y2="168.2" stroke="#3a9fd8" stroke-width="0.8" opacity="0.75"/><line x1="261.2" y1="133.1" x2="269.1" y2="131.0" stroke="#ffffff" stroke-width="1.2" opacity="0.75"/><line x1="177.7" y1="124.2" x2="177.7" y2="129.7" stroke="#ffffff" stroke-width="1.2" opacity="0.75"/><line x1="311.6" y1="78.7" x2="311.6" y2="91.0" stroke="#3a9fd8" stroke-width="0.8" opacity="0.75"/><line x1="251.1" y1="191.3" x2="251.1" y2="204.9" stroke="#ffffff" stroke-width="1.0" opacity="0.75"/><line x1="162.7" y1="81.9" x2="162.7" y2="87.2" stroke="#3a9fd8" stroke-width="0.8" opacity="0.75"/><line x1="308.9" y1="244.5" x2="318.4" y2="242.0" stroke="#3a9fd8" stroke-width="1.2" opacity="0.75"/><line x1="194.9" y1="161.8" x2="204.9" y2="159.1" stroke="#3a9fd8" stroke-width="1.2" opacity="0.75"/><line x1="187.4" y1="143.6" x2="195.7" y2="141.4" stroke="#ffffff" stroke-width="0.8" opacity="0.75"/><line x1="313.2" y1="243.2" x2="313.2" y2="249.6" stroke="#3a9fd8" stroke-width="1.2" opacity="0.75"/><line x1="276.3" y1="175.1" x2="288.4" y2="171.9" stroke="#3a9fd8" stroke-width="0.8" opacity="0.75"/><line x1="203.6" y1="158.3" x2="203.6" y2="168.9" stroke="#ffffff" stroke-width="1.2" opacity="0.75"/><line x1="187.8" y1="222.6" x2="194.3" y2="220.9" stroke="#3a9fd8" stroke-width="1.2" opacity="0.75"/><line x1="285.9" y1="192.6" x2="296.3" y2="189.9" stroke="#3a9fd8" stroke-width="1.0" opacity="0.75"/><line x1="281.2" y1="103.3" x2="291.2" y2="100.6" stroke="#ffffff" stroke-width="0.8" opacity="0.75"/><line x1="310.5" y1="173.3" x2="310.5" y2="185.0" stroke="#3a9fd8" stroke-width="1.0" opacity="0.75"/><line x1="261.9" y1="162.7" x2="261.9" y2="170.1" stroke="#3a9fd8" stroke-width="0.8" opacity="0.75"/><line x1="153.3" y1="222.1" x2="156.6" y2="221.2" stroke="#ffffff" stroke-width="1.2" opacity="0.75"/><line x1="236.5" y1="239.9" x2="249.1" y2="236.6" stroke="#3a9fd8" stroke-width="1.0" opacity="0.75"/><line x1="174.1" y1="91.6" x2="186.3" y2="88.4" stroke="#3a9fd8" stroke-width="0.8" opacity="0.75"/><line x1="211.6" y1="202.8" x2="211.6" y2="216.6" stroke="#3a9fd8" stroke-width="1.2" opacity="0.75"/><line x1="181.8" y1="135.1" x2="181.8" y2="143.0" stroke="#3a9fd8" stroke-width="1.2" opacity="0.75"/><line x1="303.7" y1="128.8" x2="307.9" y2="127.7" stroke="#ffffff" stroke-width="0.8" opacity="0.75"/><line x1="190.9" y1="192.9" x2="198.1" y2="191.0" stroke="#ffffff" stroke-width="0.8" opacity="0.75"/><line x1="227.0" y1="151.9" x2="230.4" y2="151.0" stroke="#ffffff" stroke-width="1.0" opacity="0.75"/><line x1="258.9" y1="78.8" x2="263.3" y2="77.6" stroke="#3a9fd8" stroke-width="1.0" opacity="0.75"/><line x1="227.3" y1="161.7" x2="227.3" y2="169.1" stroke="#ffffff" stroke-width="1.2" opacity="0.75"/><line x1="249.8" y1="245.1" x2="254.7" y2="243.8" stroke="#ffffff" stroke-width="0.8" opacity="0.75"/><line x1="314.0" y1="167.5" x2="314.0" y2="178.5" stroke="#ffffff" stroke-width="0.8" opacity="0.75"/><line x1="305.6" y1="186.9" x2="305.6" y2="192.9" stroke="#ffffff" stroke-width="1.2" opacity="0.75"/><line x1="197.7" y1="181.9" x2="202.8" y2="180.5" stroke="#3a9fd8" stroke-width="0.8" opacity="0.75"/><line x1="275.4" y1="131.5" x2="288.1" y2="128.1" stroke="#3a9fd8" stroke-width="1.0" opacity="0.75"/><line x1="281.5" y1="245.2" x2="281.5" y2="259.0" stroke="#ffffff" stroke-width="1.0" opacity="0.75"/><line x1="213.4" y1="220.5" x2="226.0" y2="217.1" stroke="#ffffff" stroke-width="1.2" opacity="0.75"/><line x1="168.9" y1="143.4" x2="168.9" y2="151.9" stroke="#ffffff" stroke-width="1.0" opacity="0.75"/><line x1="251.6" y1="168.9" x2="255.2" y2="167.9" stroke="#3a9fd8" stroke-width="1.2" opacity="0.75"/><line x1="161.0" y1="145.6" x2="161.0" y2="151.0" stroke="#3a9fd8" stroke-width="1.2" opacity="0.75"/><line x1="196.8" y1="119.6" x2="201.3" y2="118.4" stroke="#3a9fd8" stroke-width="0.8" opacity="0.75"/><line x1="218.2" y1="79.9" x2="218.2" y2="87.3" stroke="#ffffff" stroke-width="1.2" opacity="0.75"/><line x1="287.8" y1="231.8" x2="292.5" y2="230.6" stroke="#ffffff" stroke-width="1.2" opacity="0.75"/><line x1="163.4" y1="277.5" x2="176.6" y2="274.0" stroke="#ffffff" stroke-width="1.0" opacity="0.75"/><line x1="277.7" y1="257.3" x2="277.7" y2="261.1" stroke="#3a9fd8" stroke-width="1.0" opacity="0.75"/><line x1="294.8" y1="235.1" x2="294.8" y2="238.2" stroke="#3a9fd8" stroke-width="1.2" opacity="0.75"/><line x1="209.3" y1="208.1" x2="218.7" y2="205.5" stroke="#3a9fd8" stroke-width="1.2" opacity="0.75"/><line x1="251.9" y1="180.0" x2="251.9" y2="184.2" stroke="#3a9fd8" stroke-width="1.2" opacity="0.75"/><line x1="271.5" y1="166.1" x2="283.3" y2="163.0" stroke="#3a9fd8" stroke-width="1.0" opacity="0.75"/><line x1="247.1" y1="193.7" x2="247.1" y2="197.1" stroke="#3a9fd8" stroke-width="1.0" opacity="0.75"/><line x1="193.3" y1="87.3" x2="199.7" y2="85.6" stroke="#3a9fd8" stroke-width="1.0" opacity="0.75"/><line x1="313.8" y1="227.1" x2="324.5" y2="224.2" stroke="#3a9fd8" stroke-width="1.0" opacity="0.75"/><line x1="153.9" y1="273.6" x2="153.9" y2="286.4" stroke="#ffffff" stroke-width="0.8" opacity="0.75"/><line x1="287.8" y1="209.1" x2="287.8" y2="221.3" stroke="#3a9fd8" stroke-width="1.2" opacity="0.75"/><line x1="187.8" y1="130.8" x2="191.1" y2="129.9" stroke="#ffffff" stroke-width="1.2" opacity="0.75"/><line x1="282.2" y1="169.7" x2="282.2" y2="182.2" stroke="#ffffff" stroke-width="1.0" opacity="0.75"/><line x1="308.5" y1="126.2" x2="316.1" y2="124.2" stroke="#3a9fd8" stroke-width="0.8" opacity="0.75"/><line x1="157.3" y1="178.3" x2="169.4" y2="175.1" stroke="#3a9fd8" stroke-width="0.8" opacity="0.75"/><line x1="280.4" y1="108.7" x2="284.4" y2="107.6" stroke="#ffffff" stroke-width="1.0" opacity="0.75"/><line x1="307.4" y1="122.4" x2="314.7" y2="120.4" stroke="#3a9fd8" stroke-width="0.8" opacity="0.75"/><line x1="289.4" y1="202.6" x2="289.4" y2="206.4" stroke="#3a9fd8" stroke-width="0.8" opacity="0.75"/><line x1="235.5" y1="141.9" x2="235.5" y2="155.6" stroke="#3a9fd8" stroke-width="1.0" opacity="0.75"/><line x1="209.3" y1="242.9" x2="209.3" y2="255.2" stroke="#3a9fd8" stroke-width="1.2" opacity="0.75"/><line x1="247.5" y1="218.4" x2="251.8" y2="217.2" stroke="#3a9fd8" stroke-width="1.0" opacity="0.75"/><line x1="152.0" y1="134.2" x2="158.6" y2="132.5" stroke="#3a9fd8" stroke-width="1.0" opacity="0.75"/><line x1="178.3" y1="279.0" x2="178.3" y2="290.1" stroke="#3a9fd8" stroke-width="1.0" opacity="0.75"/><line x1="275.9" y1="118.4" x2="281.6" y2="116.9" stroke="#3a9fd8" stroke-width="1.2" opacity="0.75"/><line x1="214.5" y1="170.3" x2="214.5" y2="183.6" stroke="#ffffff" stroke-width="1.2" opacity="0.75"/><line x1="216.0" y1="177.5" x2="220.2" y2="176.4" stroke="#3a9fd8" stroke-width="0.8" opacity="0.75"/><line x1="260.0" y1="169.9" x2="260.0" y2="177.2" stroke="#3a9fd8" stroke-width="1.2" opacity="0.75"/><line x1="182.5" y1="207.2" x2="188.9" y2="205.5" stroke="#3a9fd8" stroke-width="1.2" opacity="0.75"/><line x1="307.3" y1="137.2" x2="307.3" y2="147.6" stroke="#ffffff" stroke-width="1.0" opacity="0.75"/><line x1="208.7" y1="197.8" x2="208.7" y2="205.1" stroke="#ffffff" stroke-width="0.8" opacity="0.75"/><line x1="284.5" y1="249.8" x2="284.5" y2="258.8" stroke="#ffffff" stroke-width="0.8" opacity="0.75"/><line x1="160.0" y1="151.4" x2="170.6" y2="148.6" stroke="#3a9fd8" stroke-width="1.0" opacity="0.75"/><line x1="313.3" y1="242.8" x2="313.3" y2="253.1" stroke="#ffffff" stroke-width="0.8" opacity="0.75"/><line x1="206.5" y1="171.9" x2="216.5" y2="169.2" stroke="#3a9fd8" stroke-width="0.8" opacity="0.75"/><line x1="311.0" y1="278.5" x2="322.7" y2="275.4" stroke="#3a9fd8" stroke-width="1.2" opacity="0.75"/><line x1="163.7" y1="89.6" x2="163.7" y2="99.8" stroke="#3a9fd8" stroke-width="0.8" opacity="0.75"/><line x1="233.0" y1="196.0" x2="244.8" y2="192.9" stroke="#3a9fd8" stroke-width="0.8" opacity="0.75"/><line x1="271.1" y1="94.9" x2="280.9" y2="92.3" stroke="#3a9fd8" stroke-width="1.2" opacity="0.75"/><line x1="299.0" y1="212.0" x2="299.0" y2="220.2" stroke="#3a9fd8" stroke-width="1.0" opacity="0.75"/><line x1="224.7" y1="81.2" x2="224.7" y2="94.6" stroke="#3a9fd8" stroke-width="0.8" opacity="0.75"/><line x1="163.5" y1="161.4" x2="163.5" y2="175.1" stroke="#3a9fd8" stroke-width="0.8" opacity="0.75"/><line x1="196.3" y1="180.5" x2="205.2" y2="178.1" stroke="#ffffff" stroke-width="0.8" opacity="0.75"/><line x1="231.7" y1="140.3" x2="237.2" y2="138.8" stroke="#3a9fd8" stroke-width="1.0" opacity="0.75"/><line x1="154.2" y1="122.0" x2="163.1" y2="119.6" stroke="#3a9fd8" stroke-width="0.8" opacity="0.75"/><line x1="282.6" y1="179.8" x2="291.5" y2="177.4" stroke="#ffffff" stroke-width="1.2" opacity="0.75"/><line x1="249.1" y1="252.5" x2="249.1" y2="260.0" stroke="#ffffff" stroke-width="0.8" opacity="0.75"/><line x1="280.5" y1="100.1" x2="280.5" y2="107.3" stroke="#ffffff" stroke-width="1.2" opacity="0.75"/><line x1="149.9" y1="100.3" x2="163.0" y2="96.8" stroke="#3a9fd8" stroke-width="0.8" opacity="0.75"/><line x1="211.3" y1="138.5" x2="219.9" y2="136.2" stroke="#3a9fd8" stroke-width="1.0" opacity="0.75"/><line x1="200.9" y1="176.8" x2="200.9" y2="189.5" stroke="#3a9fd8" stroke-width="1.2" opacity="0.75"/><line x1="311.9" y1="265.3" x2="321.4" y2="262.7" stroke="#ffffff" stroke-width="1.2" opacity="0.75"/><line x1="188.9" y1="152.3" x2="196.9" y2="150.2" stroke="#3a9fd8" stroke-width="1.0" opacity="0.75"/><line x1="201.8" y1="101.6" x2="210.3" y2="99.3" stroke="#ffffff" stroke-width="1.0" opacity="0.75"/><line x1="238.1" y1="158.7" x2="242.0" y2="157.7" stroke="#3a9fd8" stroke-width="1.0" opacity="0.75"/><line x1="206.1" y1="270.1" x2="206.1" y2="278.9" stroke="#3a9fd8" stroke-width="1.0" opacity="0.75"/><line x1="214.1" y1="273.2" x2="223.3" y2="270.7" stroke="#3a9fd8" stroke-width="1.0" opacity="0.75"/><line x1="308.8" y1="218.1" x2="308.8" y2="223.5" stroke="#3a9fd8" stroke-width="0.8" opacity="0.75"/><line x1="198.6" y1="178.5" x2="198.6" y2="189.8" stroke="#ffffff" stroke-width="0.8" opacity="0.75"/><line x1="181.3" y1="197.1" x2="181.3" y2="210.5" stroke="#3a9fd8" stroke-width="1.0" opacity="0.75"/><line x1="213.4" y1="135.7" x2="213.4" y2="139.7" stroke="#3a9fd8" stroke-width="1.0" opacity="0.75"/><line x1="200.8" y1="142.1" x2="200.8" y2="153.8" stroke="#3a9fd8" stroke-width="0.8" opacity="0.75"/><line x1="315.0" y1="177.0" x2="318.7" y2="176.0" stroke="#ffffff" stroke-width="1.0" opacity="0.75"/><line x1="253.6" y1="82.5" x2="253.6" y2="93.8" stroke="#3a9fd8" stroke-width="0.8" opacity="0.75"/><line x1="285.0" y1="174.8" x2="294.6" y2="172.2" stroke="#3a9fd8" stroke-width="0.8" opacity="0.75"/><line x1="174.3" y1="94.9" x2="174.3" y2="99.4" stroke="#3a9fd8" stroke-width="1.2" opacity="0.75"/><line x1="219.3" y1="101.8" x2="230.0" y2="99.0" stroke="#ffffff" stroke-width="0.8" opacity="0.75"/><line x1="307.6" y1="149.9" x2="307.6" y2="160.7" stroke="#3a9fd8" stroke-width="1.0" opacity="0.75"/><line x1="197.7" y1="270.7" x2="197.7" y2="283.8" stroke="#ffffff" stroke-width="1.0" opacity="0.75"/><line x1="200.1" y1="106.3" x2="200.1" y2="111.0" stroke="#ffffff" stroke-width="1.0" opacity="0.75"/><line x1="150.3" y1="165.3" x2="160.4" y2="162.6" stroke="#3a9fd8" stroke-width="1.0" opacity="0.75"/><line x1="219.2" y1="239.3" x2="219.2" y2="247.6" stroke="#3a9fd8" stroke-width="0.8" opacity="0.75"/><line x1="276.4" y1="143.5" x2="288.1" y2="140.4" stroke="#3a9fd8" stroke-width="1.0" opacity="0.75"/><line x1="245.5" y1="183.0" x2="254.5" y2="180.6" stroke="#3a9fd8" stroke-width="1.0" opacity="0.75"/><line x1="276.0" y1="107.9" x2="276.0" y2="115.2" stroke="#ffffff" stroke-width="1.0" opacity="0.75"/><line x1="184.7" y1="130.8" x2="184.7" y2="140.1" stroke="#ffffff" stroke-width="0.8" opacity="0.75"/><line x1="281.5" y1="129.5" x2="286.6" y2="128.1" stroke="#3a9fd8" stroke-width="0.8" opacity="0.75"/><line x1="240.1" y1="275.1" x2="240.1" y2="283.1" stroke="#3a9fd8" stroke-width="0.8" opacity="0.75"/><line x1="176.7" y1="203.2" x2="176.7" y2="211.7" stroke="#ffffff" stroke-width="1.2" opacity="0.75"/><line x1="204.8" y1="110.2" x2="212.9" y2="108.1" stroke="#3a9fd8" stroke-width="1.0" opacity="0.75"/><line x1="282.0" y1="97.7" x2="282.0" y2="103.1" stroke="#ffffff" stroke-width="1.2" opacity="0.75"/><line x1="270.4" y1="147.5" x2="275.3" y2="146.2" stroke="#ffffff" stroke-width="1.0" opacity="0.75"/><line x1="262.2" y1="151.5" x2="262.2" y2="162.4" stroke="#ffffff" stroke-width="1.2" opacity="0.75"/><line x1="311.9" y1="100.3" x2="316.7" y2="99.0" stroke="#3a9fd8" stroke-width="1.2" opacity="0.75"/><line x1="194.8" y1="129.1" x2="202.9" y2="126.9" stroke="#ffffff" stroke-width="1.0" opacity="0.75"/><line x1="279.9" y1="268.6" x2="287.0" y2="266.7" stroke="#3a9fd8" stroke-width="1.2" opacity="0.75"/><line x1="290.3" y1="201.1" x2="290.3" y2="212.2" stroke="#3a9fd8" stroke-width="1.2" opacity="0.75"/><line x1="264.5" y1="197.0" x2="264.5" y2="203.4" stroke="#3a9fd8" stroke-width="1.0" opacity="0.75"/><line x1="255.8" y1="187.6" x2="266.0" y2="184.9" stroke="#ffffff" stroke-width="0.8" opacity="0.75"/><line x1="305.4" y1="180.1" x2="305.4" y2="187.0" stroke="#ffffff" stroke-width="1.2" opacity="0.75"/><line x1="163.7" y1="268.0" x2="163.7" y2="271.8" stroke="#3a9fd8" stroke-width="0.8" opacity="0.75"/><line x1="303.7" y1="272.1" x2="310.5" y2="270.3" stroke="#3a9fd8" stroke-width="0.8" opacity="0.75"/><line x1="155.4" y1="212.6" x2="158.7" y2="211.7" stroke="#3a9fd8" stroke-width="1.2" opacity="0.75"/><line x1="310.6" y1="274.9" x2="310.6" y2="283.8" stroke="#3a9fd8" stroke-width="1.2" opacity="0.75"/><line x1="176.4" y1="184.4" x2="184.6" y2="182.2" stroke="#ffffff" stroke-width="1.2" opacity="0.75"/><line x1="162.3" y1="106.2" x2="172.6" y2="103.4" stroke="#ffffff" stroke-width="1.2" opacity="0.75"/></g>
<polygon points="226.0,114.4 314.0,91.0 314.0,95.5 226.0,118.9" fill="#2a97d6" stroke="none" stroke-width="0" stroke-linejoin="round" opacity="1"/>
<polygon points="226.0,147.4 314.0,124.0 314.0,128.5 226.0,151.9" fill="#2a97d6" stroke="none" stroke-width="0" stroke-linejoin="round" opacity="1"/>
<polygon points="226.0,185.4 314.0,162.0 314.0,166.5 226.0,189.9" fill="#2a97d6" stroke="none" stroke-width="0" stroke-linejoin="round" opacity="1"/>
<polygon points="226.0,220.4 314.0,197.0 314.0,201.5 226.0,224.9" fill="#2a97d6" stroke="none" stroke-width="0" stroke-linejoin="round" opacity="1"/>
<polygon points="226.0,103.4 314.0,80.0 314.0,91.0 226.0,114.4" fill="#3fa4db" stroke="none" stroke-width="0" stroke-linejoin="round" opacity="1"/>
<line x1="226.0" y1="109.4" x2="314.0" y2="86.0" stroke="#7cc4ea" stroke-width="1.2" opacity="1" stroke-linecap="round"/>
<line x1="252.0" y1="96.5" x2="252.0" y2="249.5" stroke="#3fa4db" stroke-width="1.8" opacity="1" stroke-linecap="round"/>
<line x1="280.0" y1="89.0" x2="280.0" y2="242.0" stroke="#3fa4db" stroke-width="1.8" opacity="1" stroke-linecap="round"/>
<line x1="310.0" y1="80.0" x2="310.0" y2="233.0" stroke="#2a97d6" stroke-width="3.2" opacity="1" stroke-linecap="round"/>
<line x1="305.0" y1="82.0" x2="305.0" y2="233.0" stroke="#8fcdee" stroke-width="1" opacity="1" stroke-linecap="round"/>
<polygon points="204.0,113.3 236.0,104.7 236.0,140.7 204.0,149.3" fill="#8ccbec" stroke="none" stroke-width="0" stroke-linejoin="round" opacity="1"/>
<polygon points="208.0,116.2 232.0,109.8 232.0,114.8 208.0,121.2" fill="#ffffff" stroke="none" stroke-width="0" stroke-linejoin="round" opacity="1"/>
<polygon points="208.0,126.2 232.0,119.8 232.0,124.8 208.0,131.2" fill="#ffffff" stroke="none" stroke-width="0" stroke-linejoin="round" opacity="1"/>
<polygon points="208.0,136.2 232.0,129.8 232.0,134.8 208.0,141.2" fill="#ffffff" stroke="none" stroke-width="0" stroke-linejoin="round" opacity="1"/>
<polygon points="237.0,113.5 249.0,110.3 249.0,119.3 237.0,122.5" fill="#e6f4fb" stroke="none" stroke-width="0" stroke-linejoin="round" opacity="1"/>
<polygon points="238.0,125.2 248.0,122.6 248.0,130.6 238.0,133.2" fill="#ffffff" stroke="none" stroke-width="0" stroke-linejoin="round" opacity="1"/>
<line x1="206.0" y1="124.7" x2="206.0" y2="178.7" stroke="#3fa4db" stroke-width="2" opacity="1" stroke-linecap="round"/>
<line x1="236.0" y1="116.7" x2="236.0" y2="170.7" stroke="#3fa4db" stroke-width="2" opacity="1" stroke-linecap="round"/>
<polygon points="145.0,124.0 314.0,79.0 239.0,18.0 70.0,63.0" fill="#9dd3ef" stroke="none" stroke-width="0" stroke-linejoin="round" opacity="1"/>
<polygon points="80.0,66.0 170.0,43.0 175.0,50.0 86.0,73.0" fill="#cbe8f7" stroke="none" stroke-width="0" stroke-linejoin="round" opacity="1"/>
<polygon points="244.0,40.0 262.0,36.0 306.0,76.0 284.0,86.0" fill="#cbe8f7" stroke="none" stroke-width="0" stroke-linejoin="round" opacity="1"/>
<polygon points="170.0,44.0 236.0,27.0 244.0,34.0 178.0,51.0" fill="#d6edf9" stroke="none" stroke-width="0" stroke-linejoin="round" opacity="1"/>
<clipPath id="tt"><polygon points="145.0,124.0 314.0,79.0 239.0,18.0 70.0,63.0"/></clipPath>
<g clip-path="url(#tt)"><line x1="90.1" y1="115.1" x2="95.3" y2="113.7" stroke="#ffffff" stroke-width="0.8" opacity="0.75"/><line x1="310.1" y1="120.6" x2="300.4" y2="112.7" stroke="#3a9fd8" stroke-width="0.8" opacity="0.75"/><line x1="219.0" y1="103.9" x2="211.8" y2="98.0" stroke="#3a9fd8" stroke-width="1.0" opacity="0.75"/><line x1="299.4" y1="27.3" x2="288.9" y2="18.8" stroke="#ffffff" stroke-width="0.8" opacity="0.75"/><line x1="141.9" y1="50.5" x2="136.0" y2="45.7" stroke="#ffffff" stroke-width="0.8" opacity="0.75"/><line x1="238.7" y1="74.1" x2="230.0" y2="67.0" stroke="#3a9fd8" stroke-width="0.8" opacity="0.75"/><line x1="160.1" y1="121.5" x2="167.2" y2="119.6" stroke="#ffffff" stroke-width="1.0" opacity="0.75"/><line x1="151.2" y1="55.4" x2="162.3" y2="52.5" stroke="#ffffff" stroke-width="1.2" opacity="0.75"/><line x1="159.7" y1="96.1" x2="154.4" y2="91.7" stroke="#3a9fd8" stroke-width="1.0" opacity="0.75"/><line x1="111.6" y1="34.2" x2="119.6" y2="32.1" stroke="#3a9fd8" stroke-width="1.0" opacity="0.75"/><line x1="113.8" y1="91.2" x2="106.4" y2="85.2" stroke="#3a9fd8" stroke-width="1.2" opacity="0.75"/><line x1="285.5" y1="37.9" x2="291.6" y2="36.3" stroke="#ffffff" stroke-width="1.2" opacity="0.75"/><line x1="118.7" y1="21.7" x2="122.6" y2="20.7" stroke="#3a9fd8" stroke-width="1.2" opacity="0.75"/><line x1="128.6" y1="41.5" x2="142.0" y2="38.0" stroke="#3a9fd8" stroke-width="1.0" opacity="0.75"/><line x1="85.3" y1="25.9" x2="74.5" y2="17.1" stroke="#3a9fd8" stroke-width="1.2" opacity="0.75"/><line x1="262.0" y1="54.5" x2="256.4" y2="50.0" stroke="#ffffff" stroke-width="1.2" opacity="0.75"/><line x1="302.1" y1="25.4" x2="292.0" y2="17.1" stroke="#ffffff" stroke-width="0.8" opacity="0.75"/><line x1="162.3" y1="25.0" x2="158.8" y2="22.1" stroke="#ffffff" stroke-width="1.0" opacity="0.75"/><line x1="306.2" y1="118.6" x2="319.0" y2="115.2" stroke="#ffffff" stroke-width="1.2" opacity="0.75"/><line x1="147.2" y1="22.6" x2="157.6" y2="19.9" stroke="#ffffff" stroke-width="1.2" opacity="0.75"/><line x1="287.6" y1="90.2" x2="298.3" y2="87.3" stroke="#3a9fd8" stroke-width="0.8" opacity="0.75"/><line x1="300.8" y1="25.7" x2="307.4" y2="24.0" stroke="#ffffff" stroke-width="1.0" opacity="0.75"/><line x1="147.7" y1="80.9" x2="156.1" y2="78.7" stroke="#3a9fd8" stroke-width="1.0" opacity="0.75"/><line x1="257.0" y1="74.9" x2="254.0" y2="72.4" stroke="#ffffff" stroke-width="0.8" opacity="0.75"/><line x1="296.6" y1="123.4" x2="288.5" y2="116.8" stroke="#ffffff" stroke-width="1.0" opacity="0.75"/><line x1="226.3" y1="29.3" x2="238.7" y2="26.0" stroke="#3a9fd8" stroke-width="1.0" opacity="0.75"/><line x1="217.6" y1="109.4" x2="222.5" y2="108.1" stroke="#3a9fd8" stroke-width="1.2" opacity="0.75"/><line x1="74.1" y1="100.4" x2="77.5" y2="99.5" stroke="#ffffff" stroke-width="0.8" opacity="0.75"/><line x1="167.5" y1="106.8" x2="165.0" y2="104.8" stroke="#3a9fd8" stroke-width="1.0" opacity="0.75"/><line x1="219.8" y1="24.8" x2="226.4" y2="23.1" stroke="#ffffff" stroke-width="0.8" opacity="0.75"/><line x1="151.5" y1="109.6" x2="143.3" y2="102.9" stroke="#ffffff" stroke-width="1.2" opacity="0.75"/><line x1="146.6" y1="56.5" x2="139.4" y2="50.6" stroke="#3a9fd8" stroke-width="1.2" opacity="0.75"/><line x1="213.5" y1="45.7" x2="207.0" y2="40.4" stroke="#3a9fd8" stroke-width="1.2" opacity="0.75"/><line x1="279.5" y1="113.3" x2="287.8" y2="111.0" stroke="#3a9fd8" stroke-width="1.0" opacity="0.75"/><line x1="257.8" y1="118.9" x2="266.6" y2="116.5" stroke="#3a9fd8" stroke-width="1.2" opacity="0.75"/><line x1="303.0" y1="48.7" x2="313.2" y2="46.0" stroke="#ffffff" stroke-width="1.2" opacity="0.75"/><line x1="95.8" y1="98.5" x2="87.9" y2="92.1" stroke="#3a9fd8" stroke-width="1.2" opacity="0.75"/><line x1="191.1" y1="47.1" x2="183.4" y2="40.8" stroke="#3a9fd8" stroke-width="0.8" opacity="0.75"/><line x1="147.2" y1="87.0" x2="151.7" y2="85.9" stroke="#ffffff" stroke-width="1.2" opacity="0.75"/><line x1="177.8" y1="27.1" x2="173.5" y2="23.6" stroke="#3a9fd8" stroke-width="0.8" opacity="0.75"/><line x1="131.2" y1="115.5" x2="125.2" y2="110.7" stroke="#3a9fd8" stroke-width="0.8" opacity="0.75"/><line x1="189.5" y1="70.1" x2="201.3" y2="66.9" stroke="#3a9fd8" stroke-width="1.0" opacity="0.75"/><line x1="297.7" y1="87.8" x2="291.6" y2="82.8" stroke="#ffffff" stroke-width="1.2" opacity="0.75"/><line x1="295.4" y1="92.0" x2="287.0" y2="85.2" stroke="#3a9fd8" stroke-width="0.8" opacity="0.75"/><line x1="97.2" y1="69.4" x2="94.5" y2="67.2" stroke="#3a9fd8" stroke-width="1.2" opacity="0.75"/><line x1="231.2" y1="68.9" x2="223.1" y2="62.3" stroke="#3a9fd8" stroke-width="1.2" opacity="0.75"/><line x1="282.6" y1="123.4" x2="288.3" y2="121.9" stroke="#ffffff" stroke-width="1.0" opacity="0.75"/><line x1="145.0" y1="38.1" x2="136.2" y2="30.9" stroke="#3a9fd8" stroke-width="1.2" opacity="0.75"/><line x1="229.0" y1="98.9" x2="222.9" y2="94.0" stroke="#3a9fd8" stroke-width="1.0" opacity="0.75"/><line x1="262.8" y1="112.3" x2="252.4" y2="103.9" stroke="#3a9fd8" stroke-width="1.0" opacity="0.75"/><line x1="123.8" y1="94.8" x2="136.1" y2="91.5" stroke="#3a9fd8" stroke-width="0.8" opacity="0.75"/><line x1="125.2" y1="84.8" x2="129.8" y2="83.6" stroke="#3a9fd8" stroke-width="1.0" opacity="0.75"/><line x1="135.7" y1="38.2" x2="127.5" y2="31.6" stroke="#3a9fd8" stroke-width="1.0" opacity="0.75"/><line x1="149.5" y1="23.9" x2="158.0" y2="21.6" stroke="#3a9fd8" stroke-width="1.0" opacity="0.75"/><line x1="306.7" y1="101.6" x2="312.6" y2="100.0" stroke="#3a9fd8" stroke-width="1.0" opacity="0.75"/><line x1="84.3" y1="28.4" x2="81.6" y2="26.2" stroke="#3a9fd8" stroke-width="1.2" opacity="0.75"/><line x1="129.9" y1="39.5" x2="125.6" y2="35.9" stroke="#ffffff" stroke-width="0.8" opacity="0.75"/><line x1="152.3" y1="121.5" x2="164.3" y2="118.3" stroke="#3a9fd8" stroke-width="1.2" opacity="0.75"/><line x1="170.8" y1="61.9" x2="178.7" y2="59.8" stroke="#3a9fd8" stroke-width="0.8" opacity="0.75"/><line x1="174.5" y1="69.4" x2="184.1" y2="66.9" stroke="#3a9fd8" stroke-width="1.2" opacity="0.75"/><line x1="291.8" y1="45.1" x2="281.0" y2="36.3" stroke="#3a9fd8" stroke-width="0.8" opacity="0.75"/><line x1="113.1" y1="124.6" x2="109.2" y2="121.4" stroke="#3a9fd8" stroke-width="1.2" opacity="0.75"/><line x1="213.0" y1="119.0" x2="224.4" y2="115.9" stroke="#ffffff" stroke-width="0.8" opacity="0.75"/><line x1="181.2" y1="64.7" x2="189.2" y2="62.6" stroke="#3a9fd8" stroke-width="0.8" opacity="0.75"/><line x1="204.5" y1="18.2" x2="213.9" y2="15.7" stroke="#3a9fd8" stroke-width="1.0" opacity="0.75"/><line x1="191.6" y1="102.7" x2="203.1" y2="99.7" stroke="#ffffff" stroke-width="1.2" opacity="0.75"/><line x1="169.4" y1="27.4" x2="165.0" y2="23.8" stroke="#3a9fd8" stroke-width="1.0" opacity="0.75"/><line x1="72.2" y1="25.9" x2="80.1" y2="23.8" stroke="#ffffff" stroke-width="0.8" opacity="0.75"/><line x1="279.3" y1="70.6" x2="274.3" y2="66.5" stroke="#3a9fd8" stroke-width="0.8" opacity="0.75"/><line x1="151.2" y1="20.4" x2="142.8" y2="13.5" stroke="#3a9fd8" stroke-width="1.2" opacity="0.75"/><line x1="166.9" y1="113.8" x2="178.2" y2="110.8" stroke="#3a9fd8" stroke-width="1.0" opacity="0.75"/><line x1="119.3" y1="89.6" x2="126.9" y2="87.6" stroke="#ffffff" stroke-width="0.8" opacity="0.75"/><line x1="170.0" y1="50.8" x2="163.8" y2="45.7" stroke="#3a9fd8" stroke-width="1.2" opacity="0.75"/><line x1="180.8" y1="58.6" x2="170.1" y2="49.9" stroke="#3a9fd8" stroke-width="1.0" opacity="0.75"/><line x1="287.8" y1="26.1" x2="293.1" y2="24.7" stroke="#3a9fd8" stroke-width="1.2" opacity="0.75"/><line x1="230.6" y1="90.2" x2="240.5" y2="87.6" stroke="#ffffff" stroke-width="0.8" opacity="0.75"/><line x1="201.7" y1="123.8" x2="212.2" y2="121.0" stroke="#ffffff" stroke-width="1.0" opacity="0.75"/><line x1="153.4" y1="64.1" x2="160.4" y2="62.2" stroke="#3a9fd8" stroke-width="1.0" opacity="0.75"/><line x1="314.4" y1="39.2" x2="311.6" y2="36.9" stroke="#3a9fd8" stroke-width="0.8" opacity="0.75"/><line x1="275.7" y1="60.3" x2="267.3" y2="53.4" stroke="#3a9fd8" stroke-width="1.2" opacity="0.75"/><line x1="158.5" y1="69.6" x2="168.6" y2="66.9" stroke="#3a9fd8" stroke-width="0.8" opacity="0.75"/><line x1="312.8" y1="32.7" x2="307.7" y2="28.6" stroke="#3a9fd8" stroke-width="0.8" opacity="0.75"/><line x1="136.1" y1="79.3" x2="129.5" y2="73.9" stroke="#ffffff" stroke-width="1.2" opacity="0.75"/><line x1="264.8" y1="71.4" x2="277.3" y2="68.1" stroke="#3a9fd8" stroke-width="1.2" opacity="0.75"/><line x1="104.0" y1="83.4" x2="112.5" y2="81.2" stroke="#3a9fd8" stroke-width="1.2" opacity="0.75"/><line x1="73.6" y1="49.3" x2="77.0" y2="48.4" stroke="#ffffff" stroke-width="1.2" opacity="0.75"/><line x1="239.6" y1="92.5" x2="234.0" y2="88.0" stroke="#ffffff" stroke-width="1.0" opacity="0.75"/><line x1="211.4" y1="73.5" x2="205.7" y2="68.8" stroke="#3a9fd8" stroke-width="1.0" opacity="0.75"/><line x1="223.3" y1="108.1" x2="219.3" y2="104.8" stroke="#ffffff" stroke-width="0.8" opacity="0.75"/><line x1="226.0" y1="20.9" x2="229.1" y2="20.1" stroke="#ffffff" stroke-width="1.2" opacity="0.75"/><line x1="75.0" y1="106.4" x2="70.8" y2="103.1" stroke="#3a9fd8" stroke-width="1.2" opacity="0.75"/><line x1="147.8" y1="105.6" x2="138.2" y2="97.9" stroke="#3a9fd8" stroke-width="0.8" opacity="0.75"/><line x1="177.6" y1="105.7" x2="170.1" y2="99.6" stroke="#3a9fd8" stroke-width="0.8" opacity="0.75"/><line x1="204.1" y1="83.0" x2="213.9" y2="80.4" stroke="#3a9fd8" stroke-width="1.0" opacity="0.75"/><line x1="287.9" y1="37.0" x2="297.1" y2="34.5" stroke="#3a9fd8" stroke-width="1.0" opacity="0.75"/><line x1="156.1" y1="94.3" x2="168.4" y2="91.0" stroke="#3a9fd8" stroke-width="0.8" opacity="0.75"/><line x1="186.8" y1="24.4" x2="196.8" y2="21.7" stroke="#3a9fd8" stroke-width="1.2" opacity="0.75"/><line x1="83.5" y1="108.8" x2="76.2" y2="102.9" stroke="#ffffff" stroke-width="0.8" opacity="0.75"/><line x1="215.2" y1="100.3" x2="223.8" y2="98.0" stroke="#3a9fd8" stroke-width="0.8" opacity="0.75"/><line x1="171.6" y1="116.2" x2="164.5" y2="110.4" stroke="#ffffff" stroke-width="0.8" opacity="0.75"/><line x1="240.5" y1="52.8" x2="246.5" y2="51.2" stroke="#3a9fd8" stroke-width="1.0" opacity="0.75"/><line x1="129.9" y1="18.4" x2="125.0" y2="14.4" stroke="#ffffff" stroke-width="1.0" opacity="0.75"/><line x1="145.0" y1="81.9" x2="149.1" y2="80.8" stroke="#3a9fd8" stroke-width="1.0" opacity="0.75"/><line x1="236.0" y1="38.5" x2="226.2" y2="30.5" stroke="#3a9fd8" stroke-width="1.2" opacity="0.75"/><line x1="178.2" y1="95.5" x2="189.8" y2="92.5" stroke="#3a9fd8" stroke-width="1.0" opacity="0.75"/><line x1="184.2" y1="75.1" x2="175.2" y2="67.8" stroke="#3a9fd8" stroke-width="0.8" opacity="0.75"/><line x1="138.7" y1="50.0" x2="148.5" y2="47.4" stroke="#ffffff" stroke-width="1.0" opacity="0.75"/><line x1="138.8" y1="38.7" x2="129.3" y2="31.0" stroke="#3a9fd8" stroke-width="1.2" opacity="0.75"/><line x1="160.1" y1="120.0" x2="168.3" y2="117.8" stroke="#ffffff" stroke-width="1.2" opacity="0.75"/><line x1="313.9" y1="117.0" x2="310.9" y2="114.6" stroke="#ffffff" stroke-width="1.0" opacity="0.75"/><line x1="202.8" y1="73.6" x2="214.9" y2="70.4" stroke="#3a9fd8" stroke-width="0.8" opacity="0.75"/><line x1="199.9" y1="30.2" x2="190.8" y2="22.7" stroke="#3a9fd8" stroke-width="0.8" opacity="0.75"/><line x1="179.0" y1="124.9" x2="171.6" y2="118.9" stroke="#3a9fd8" stroke-width="0.8" opacity="0.75"/><line x1="212.4" y1="36.7" x2="224.9" y2="33.4" stroke="#3a9fd8" stroke-width="0.8" opacity="0.75"/><line x1="300.1" y1="88.4" x2="289.3" y2="79.7" stroke="#3a9fd8" stroke-width="1.2" opacity="0.75"/><line x1="72.4" y1="41.8" x2="68.3" y2="38.4" stroke="#ffffff" stroke-width="1.0" opacity="0.75"/><line x1="150.8" y1="121.4" x2="147.6" y2="118.8" stroke="#3a9fd8" stroke-width="1.0" opacity="0.75"/><line x1="114.7" y1="104.0" x2="119.3" y2="102.8" stroke="#ffffff" stroke-width="1.2" opacity="0.75"/><line x1="265.9" y1="33.2" x2="269.1" y2="32.3" stroke="#ffffff" stroke-width="1.0" opacity="0.75"/><line x1="228.0" y1="124.3" x2="217.9" y2="116.2" stroke="#3a9fd8" stroke-width="1.0" opacity="0.75"/><line x1="225.5" y1="84.4" x2="222.8" y2="82.2" stroke="#3a9fd8" stroke-width="1.0" opacity="0.75"/><line x1="286.0" y1="88.9" x2="295.8" y2="86.3" stroke="#3a9fd8" stroke-width="1.2" opacity="0.75"/><line x1="308.1" y1="43.9" x2="320.8" y2="40.5" stroke="#3a9fd8" stroke-width="0.8" opacity="0.75"/><line x1="130.4" y1="93.1" x2="143.3" y2="89.6" stroke="#3a9fd8" stroke-width="0.8" opacity="0.75"/><line x1="311.0" y1="90.3" x2="305.4" y2="85.8" stroke="#3a9fd8" stroke-width="1.0" opacity="0.75"/><line x1="69.8" y1="62.3" x2="66.4" y2="59.6" stroke="#ffffff" stroke-width="0.8" opacity="0.75"/><line x1="74.9" y1="124.2" x2="81.3" y2="122.4" stroke="#ffffff" stroke-width="1.2" opacity="0.75"/><line x1="227.5" y1="83.7" x2="230.6" y2="82.8" stroke="#3a9fd8" stroke-width="1.2" opacity="0.75"/><line x1="208.1" y1="43.8" x2="218.7" y2="41.0" stroke="#ffffff" stroke-width="0.8" opacity="0.75"/><line x1="100.2" y1="59.4" x2="107.8" y2="57.4" stroke="#3a9fd8" stroke-width="0.8" opacity="0.75"/><line x1="256.7" y1="96.0" x2="268.4" y2="92.9" stroke="#ffffff" stroke-width="0.8" opacity="0.75"/><line x1="220.6" y1="114.8" x2="230.3" y2="112.2" stroke="#ffffff" stroke-width="1.2" opacity="0.75"/><line x1="79.6" y1="109.4" x2="69.4" y2="101.2" stroke="#ffffff" stroke-width="0.8" opacity="0.75"/><line x1="125.0" y1="37.4" x2="132.6" y2="35.4" stroke="#ffffff" stroke-width="1.2" opacity="0.75"/><line x1="109.7" y1="36.2" x2="104.2" y2="31.7" stroke="#ffffff" stroke-width="1.2" opacity="0.75"/><line x1="253.3" y1="28.4" x2="259.4" y2="26.8" stroke="#3a9fd8" stroke-width="0.8" opacity="0.75"/><line x1="116.0" y1="54.3" x2="128.3" y2="51.0" stroke="#3a9fd8" stroke-width="1.0" opacity="0.75"/><line x1="139.8" y1="48.9" x2="136.1" y2="45.9" stroke="#3a9fd8" stroke-width="1.0" opacity="0.75"/><line x1="297.3" y1="29.6" x2="292.7" y2="25.9" stroke="#ffffff" stroke-width="0.8" opacity="0.75"/><line x1="254.1" y1="102.7" x2="243.8" y2="94.4" stroke="#ffffff" stroke-width="1.0" opacity="0.75"/><line x1="282.6" y1="54.9" x2="291.4" y2="52.6" stroke="#ffffff" stroke-width="1.0" opacity="0.75"/><line x1="282.7" y1="57.1" x2="272.2" y2="48.6" stroke="#3a9fd8" stroke-width="1.2" opacity="0.75"/><line x1="288.6" y1="48.0" x2="296.6" y2="45.8" stroke="#ffffff" stroke-width="1.2" opacity="0.75"/><line x1="103.6" y1="61.6" x2="100.2" y2="58.8" stroke="#3a9fd8" stroke-width="0.8" opacity="0.75"/><line x1="175.7" y1="80.5" x2="188.8" y2="77.0" stroke="#3a9fd8" stroke-width="1.0" opacity="0.75"/><line x1="179.0" y1="110.6" x2="174.4" y2="106.9" stroke="#3a9fd8" stroke-width="1.2" opacity="0.75"/><line x1="218.2" y1="76.6" x2="225.1" y2="74.7" stroke="#3a9fd8" stroke-width="1.2" opacity="0.75"/><line x1="68.3" y1="18.1" x2="74.7" y2="16.4" stroke="#ffffff" stroke-width="1.2" opacity="0.75"/><line x1="226.1" y1="25.0" x2="221.8" y2="21.5" stroke="#3a9fd8" stroke-width="1.2" opacity="0.75"/><line x1="182.8" y1="69.2" x2="178.2" y2="65.5" stroke="#3a9fd8" stroke-width="0.8" opacity="0.75"/><line x1="145.6" y1="98.1" x2="155.7" y2="95.4" stroke="#ffffff" stroke-width="1.2" opacity="0.75"/><line x1="307.8" y1="39.9" x2="304.0" y2="36.9" stroke="#ffffff" stroke-width="1.0" opacity="0.75"/><line x1="277.5" y1="76.9" x2="287.5" y2="74.2" stroke="#3a9fd8" stroke-width="1.2" opacity="0.75"/><line x1="82.4" y1="28.6" x2="90.2" y2="26.6" stroke="#3a9fd8" stroke-width="1.2" opacity="0.75"/><line x1="131.4" y1="67.2" x2="121.0" y2="58.8" stroke="#ffffff" stroke-width="1.2" opacity="0.75"/><line x1="74.3" y1="42.8" x2="79.0" y2="41.5" stroke="#ffffff" stroke-width="1.2" opacity="0.75"/><line x1="154.4" y1="28.1" x2="144.7" y2="20.2" stroke="#3a9fd8" stroke-width="1.0" opacity="0.75"/><line x1="234.5" y1="96.7" x2="227.4" y2="90.9" stroke="#3a9fd8" stroke-width="0.8" opacity="0.75"/><line x1="235.9" y1="123.3" x2="247.1" y2="120.3" stroke="#3a9fd8" stroke-width="1.0" opacity="0.75"/><line x1="120.4" y1="65.7" x2="114.0" y2="60.4" stroke="#3a9fd8" stroke-width="0.8" opacity="0.75"/><line x1="194.6" y1="24.3" x2="203.9" y2="21.9" stroke="#3a9fd8" stroke-width="1.2" opacity="0.75"/><line x1="139.9" y1="67.2" x2="130.7" y2="59.7" stroke="#3a9fd8" stroke-width="1.2" opacity="0.75"/><line x1="188.0" y1="61.0" x2="194.7" y2="59.2" stroke="#3a9fd8" stroke-width="0.8" opacity="0.75"/><line x1="242.0" y1="75.6" x2="231.5" y2="67.1" stroke="#3a9fd8" stroke-width="1.2" opacity="0.75"/><line x1="173.0" y1="83.0" x2="166.9" y2="78.0" stroke="#ffffff" stroke-width="1.0" opacity="0.75"/><line x1="163.2" y1="116.5" x2="160.8" y2="114.6" stroke="#ffffff" stroke-width="0.8" opacity="0.75"/><line x1="100.8" y1="32.7" x2="92.1" y2="25.6" stroke="#ffffff" stroke-width="1.2" opacity="0.75"/><line x1="106.4" y1="54.0" x2="119.7" y2="50.4" stroke="#ffffff" stroke-width="0.8" opacity="0.75"/><line x1="151.1" y1="33.5" x2="147.9" y2="30.9" stroke="#ffffff" stroke-width="1.2" opacity="0.75"/><line x1="150.4" y1="61.4" x2="141.6" y2="54.2" stroke="#3a9fd8" stroke-width="1.2" opacity="0.75"/><line x1="112.3" y1="71.4" x2="119.6" y2="69.5" stroke="#3a9fd8" stroke-width="0.8" opacity="0.75"/><line x1="172.0" y1="35.0" x2="176.8" y2="33.7" stroke="#ffffff" stroke-width="1.0" opacity="0.75"/><line x1="292.1" y1="103.9" x2="300.3" y2="101.7" stroke="#ffffff" stroke-width="1.2" opacity="0.75"/><line x1="195.7" y1="77.0" x2="200.4" y2="75.8" stroke="#3a9fd8" stroke-width="0.8" opacity="0.75"/><line x1="215.6" y1="46.4" x2="225.6" y2="43.7" stroke="#3a9fd8" stroke-width="1.2" opacity="0.75"/><line x1="123.5" y1="24.8" x2="119.2" y2="21.3" stroke="#ffffff" stroke-width="1.0" opacity="0.75"/><line x1="191.1" y1="87.6" x2="197.9" y2="85.8" stroke="#ffffff" stroke-width="1.2" opacity="0.75"/><line x1="218.2" y1="31.9" x2="210.7" y2="25.8" stroke="#3a9fd8" stroke-width="1.2" opacity="0.75"/><line x1="264.7" y1="102.5" x2="270.1" y2="101.0" stroke="#3a9fd8" stroke-width="1.0" opacity="0.75"/><line x1="261.9" y1="31.3" x2="269.7" y2="29.2" stroke="#3a9fd8" stroke-width="1.0" opacity="0.75"/><line x1="266.3" y1="91.0" x2="260.7" y2="86.5" stroke="#3a9fd8" stroke-width="1.0" opacity="0.75"/><line x1="163.4" y1="79.4" x2="159.5" y2="76.3" stroke="#3a9fd8" stroke-width="1.2" opacity="0.75"/><line x1="161.8" y1="30.6" x2="171.5" y2="28.1" stroke="#3a9fd8" stroke-width="0.8" opacity="0.75"/><line x1="200.5" y1="102.0" x2="204.4" y2="100.9" stroke="#ffffff" stroke-width="1.2" opacity="0.75"/><line x1="185.4" y1="39.8" x2="192.8" y2="37.8" stroke="#ffffff" stroke-width="1.2" opacity="0.75"/><line x1="187.0" y1="40.6" x2="178.0" y2="33.3" stroke="#3a9fd8" stroke-width="0.8" opacity="0.75"/><line x1="97.7" y1="26.4" x2="90.3" y2="20.3" stroke="#ffffff" stroke-width="1.0" opacity="0.75"/><line x1="183.9" y1="70.7" x2="192.3" y2="68.5" stroke="#3a9fd8" stroke-width="1.0" opacity="0.75"/><line x1="309.1" y1="56.9" x2="299.4" y2="48.9" stroke="#3a9fd8" stroke-width="0.8" opacity="0.75"/><line x1="152.8" y1="86.0" x2="162.6" y2="83.4" stroke="#3a9fd8" stroke-width="0.8" opacity="0.75"/><line x1="169.8" y1="34.9" x2="162.6" y2="29.0" stroke="#3a9fd8" stroke-width="0.8" opacity="0.75"/><line x1="256.0" y1="87.7" x2="267.1" y2="84.8" stroke="#3a9fd8" stroke-width="0.8" opacity="0.75"/><line x1="196.7" y1="112.1" x2="188.0" y2="105.0" stroke="#3a9fd8" stroke-width="1.2" opacity="0.75"/><line x1="209.3" y1="103.2" x2="206.2" y2="100.7" stroke="#ffffff" stroke-width="0.8" opacity="0.75"/><line x1="281.7" y1="121.9" x2="278.4" y2="119.2" stroke="#ffffff" stroke-width="0.8" opacity="0.75"/><line x1="208.0" y1="48.2" x2="202.8" y2="44.0" stroke="#3a9fd8" stroke-width="1.0" opacity="0.75"/><line x1="68.3" y1="77.2" x2="80.6" y2="73.9" stroke="#ffffff" stroke-width="1.0" opacity="0.75"/><line x1="228.7" y1="90.1" x2="224.8" y2="86.9" stroke="#ffffff" stroke-width="1.2" opacity="0.75"/><line x1="118.4" y1="67.9" x2="128.5" y2="65.3" stroke="#ffffff" stroke-width="0.8" opacity="0.75"/><line x1="215.9" y1="79.2" x2="209.4" y2="73.9" stroke="#3a9fd8" stroke-width="0.8" opacity="0.75"/></g>
<path d="M172,70 L234,56 Q241,54 246,58 L272,80 Q277,85 271,87 L212,102 Q206,103 202,100 L168,77 Q163,72 172,70 Z" fill="#b8e0f4" stroke="#2a97d6" stroke-width="1.6" opacity="1" stroke-linejoin="round"/>
<path d="M176,72 L236,59 Q241,58 241,63 L241,83 Q241,87 236,88 L206,96 Q201,97 197,94 L174,78 Q170,74 176,72 Z" fill="#8acdec" stroke="#3da2da" stroke-width="1.0" opacity="1" stroke-linejoin="round"/>
<line x1="244.0" y1="64.0" x2="266.0" y2="83.0" stroke="#ffffff" stroke-width="1.6" opacity="1" stroke-linecap="round"/>
<line x1="247.0" y1="61.0" x2="270.0" y2="80.0" stroke="#ffffff" stroke-width="1.6" opacity="1" stroke-linecap="round"/>
<line x1="244.0" y1="74.0" x2="258.0" y2="86.0" stroke="#ffffff" stroke-width="1.6" opacity="1" stroke-linecap="round"/>
<line x1="243.0" y1="60.0" x2="243.0" y2="88.0" stroke="#3da2da" stroke-width="1.4" opacity="1" stroke-linecap="round"/>
<line x1="252.0" y1="62.0" x2="252.0" y2="90.0" stroke="#5fb5e2" stroke-width="1.0" opacity="1" stroke-linecap="round"/>
<polygon points="174.0,47.0 210.0,38.0 224.0,48.0 188.0,57.0" fill="#d0eaf8" stroke="#3da2da" stroke-width="1.2" stroke-linejoin="round" opacity="1"/>
<polygon points="174.0,47.0 188.0,57.0 188.0,64.0 174.0,55.0" fill="#a6d7f0" stroke="#3da2da" stroke-width="1" stroke-linejoin="round" opacity="1"/>
<polygon points="188.0,57.0 224.0,48.0 224.0,55.0 188.0,64.0" fill="#bde2f5" stroke="#3da2da" stroke-width="1" stroke-linejoin="round" opacity="1"/>
<ellipse cx="181.0" cy="64.0" rx="3.0" ry="2.0" fill="#2a97d6" opacity="1" transform="rotate(0 181.0 64.0)"/>
<ellipse cx="196.0" cy="60.0" rx="3.0" ry="2.0" fill="#2a97d6" opacity="1" transform="rotate(0 196.0 60.0)"/>
<ellipse cx="208.0" cy="66.0" rx="2.0" ry="1.5" fill="#2a97d6" opacity="1" transform="rotate(0 208.0 66.0)"/>
<path d="M88,76 L136,64 L162,90 L118,104 Z" fill="#8fcdee" stroke="#45a8de" stroke-width="1.6" opacity="1" stroke-linejoin="round"/>
<polygon points="94.0,78.0 134.0,68.0 154.0,88.0 118.0,99.0" fill="#a9d9f1" stroke="none" stroke-width="0" stroke-linejoin="round" opacity="1"/>
<line x1="100.0" y1="90.0" x2="150.0" y2="78.0" stroke="#5fb5e2" stroke-width="1" opacity="1" stroke-linecap="round"/>
<ellipse cx="150.0" cy="63.0" rx="6.0" ry="3.0" fill="#ffffff" opacity="0.95" transform="rotate(-15 150.0 63.0)"/>
<ellipse cx="133.0" cy="60.0" rx="4.0" ry="2.0" fill="#ffffff" opacity="0.95" transform="rotate(-15 133.0 60.0)"/>
<ellipse cx="160.0" cy="72.0" rx="3.0" ry="4.0" fill="#ffffff" opacity="0.95" transform="rotate(0 160.0 72.0)"/>
<ellipse cx="118.0" cy="92.0" rx="3.0" ry="2.0" fill="#ffffff" opacity="0.95" transform="rotate(0 118.0 92.0)"/>
<ellipse cx="160.0" cy="100.0" rx="5.0" ry="2.0" fill="#ffffff" opacity="0.95" transform="rotate(-15 160.0 100.0)"/>
<ellipse cx="255.0" cy="47.0" rx="5.0" ry="3.0" fill="#ffffff" opacity="0.95" transform="rotate(40 255.0 47.0)"/>
<ellipse cx="272.0" cy="58.0" rx="5.0" ry="2.0" fill="#ffffff" opacity="0.95" transform="rotate(40 272.0 58.0)"/>
<ellipse cx="288.0" cy="70.0" rx="4.0" ry="2.0" fill="#ffffff" opacity="0.95" transform="rotate(40 288.0 70.0)"/>
<ellipse cx="298.0" cy="80.0" rx="4.0" ry="2.0" fill="#ffffff" opacity="0.95" transform="rotate(40 298.0 80.0)"/>
<ellipse cx="250.0" cy="70.0" rx="3.0" ry="2.0" fill="#ffffff" opacity="0.95" transform="rotate(40 250.0 70.0)"/>
<ellipse cx="233.0" cy="97.0" rx="4.0" ry="2.0" fill="#ffffff" opacity="0.95" transform="rotate(-15 233.0 97.0)"/>
<ellipse cx="110.0" cy="72.0" rx="3.0" ry="2.0" fill="#ffffff" opacity="0.95" transform="rotate(-15 110.0 72.0)"/>
<ellipse cx="170.0" cy="95.0" rx="3.0" ry="2.0" fill="#ffffff" opacity="0.95" transform="rotate(40 170.0 95.0)"/>
<ellipse cx="292.0" cy="86.0" rx="4.0" ry="2.0" fill="#ffffff" opacity="0.95" transform="rotate(-15 292.0 86.0)"/>
<line x1="150.0" y1="56.0" x2="200.0" y2="98.0" stroke="#45a8de" stroke-width="1.8" opacity="1" stroke-linecap="round"/>
<line x1="160.0" y1="54.0" x2="204.0" y2="90.0" stroke="#5fb5e2" stroke-width="1.2" opacity="1" stroke-linecap="round"/>
<line x1="248.0" y1="62.0" x2="290.0" y2="96.0" stroke="#45a8de" stroke-width="1.6" opacity="1" stroke-linecap="round"/>
<line x1="262.0" y1="58.0" x2="300.0" y2="90.0" stroke="#5fb5e2" stroke-width="1.2" opacity="1" stroke-linecap="round"/>
<line x1="231.0" y1="38.0" x2="300.0" y2="90.0" stroke="#5fb5e2" stroke-width="1.2" opacity="1" stroke-linecap="round"/>
<line x1="150.0" y1="112.0" x2="308.0" y2="70.0" stroke="#45a8de" stroke-width="1.6" opacity="1" stroke-linecap="round"/>
<polyline points="70.0,63.0 239.0,18.0 314.0,79.0" fill="none" stroke="#2a97d6" stroke-width="3.2" opacity="1" stroke-linejoin="round" stroke-linecap="round"/>
<polyline points="76.0,66.0 240.0,24.0 306.0,80.0" fill="none" stroke="#60b6e3" stroke-width="1.6" opacity="1" stroke-linejoin="round" stroke-linecap="round"/>
<line x1="70.0" y1="63.0" x2="145.0" y2="124.0" stroke="#2a97d6" stroke-width="4" opacity="1" stroke-linecap="round"/>
<line x1="76.0" y1="67.0" x2="146.0" y2="119.0" stroke="#5fb5e2" stroke-width="1.5" opacity="1" stroke-linecap="round"/>
<line x1="145.0" y1="124.0" x2="314.0" y2="79.0" stroke="#2a97d6" stroke-width="3.5" opacity="1" stroke-linecap="round"/>
<line x1="148.0" y1="118.0" x2="312.0" y2="74.0" stroke="#5fb5e2" stroke-width="1.2" opacity="1" stroke-linecap="round"/>
<line x1="145.0" y1="124.0" x2="145.0" y2="281.0" stroke="#2a97d6" stroke-width="3" opacity="1" stroke-linecap="round"/>
<line x1="314.0" y1="79.0" x2="314.0" y2="233.0" stroke="#2a97d6" stroke-width="2.8" opacity="1" stroke-linecap="round"/>
<line x1="226.0" y1="258.0" x2="314.0" y2="233.0" stroke="#2a97d6" stroke-width="2.8" opacity="1" stroke-linecap="round"/>
<line x1="70.0" y1="63.0" x2="69.0" y2="197.0" stroke="#2a97d6" stroke-width="3" opacity="1" stroke-linecap="round"/>
<polyline points="69.0,197.0 80.0,206.0 80.0,216.0 136.0,280.0 145.0,281.0" fill="none" stroke="#2a97d6" stroke-width="2.6" opacity="1" stroke-linejoin="round" stroke-linecap="round"/>
<polygon points="74.0,213.0 79.0,212.0 79.0,221.0 74.0,222.0" fill="#3da2da" stroke="none" stroke-width="0" stroke-linejoin="round" opacity="1"/>
<polygon points="149.0,141.0 180.0,133.0 226.0,167.0 201.0,178.0" fill="#c2e4f6" stroke="none" stroke-width="0" stroke-linejoin="round" opacity="1"/>
<polygon points="180.0,133.0 226.0,167.0 226.0,174.0 180.0,142.0" fill="#d7eefa" stroke="none" stroke-width="0" stroke-linejoin="round" opacity="1"/>
<line x1="178.0" y1="145.0" x2="205.0" y2="162.0" stroke="#7cc4ea" stroke-width="1" opacity="1" stroke-linecap="round"/>
<path d="M150,141 L201,178 L201,203 Q194,203 191,216 Q189,226 184,226 L150,199 Z" fill="#9fd3ee" stroke="none" stroke-width="0" opacity="1" stroke-linejoin="round"/>
<path d="M150,199 L184,226 Q189,226 191,216 Q194,203 201,203 L201,305 L158,277 L150,266 Z" fill="#8fd0ee" stroke="none" stroke-width="0" opacity="1" stroke-linejoin="round"/>
<rect x="151.4" y="206.4" width="3.2" height="29.6" rx="1.4" fill="none" stroke="#3da2da" stroke-width="1.1"/>
<rect x="151.4" y="241.0" width="3.2" height="23.0" rx="1.4" fill="none" stroke="#3da2da" stroke-width="1.1"/>
<rect x="156.7" y="210.6" width="3.2" height="29.0" rx="1.4" fill="none" stroke="#3da2da" stroke-width="1.1"/>
<rect x="156.7" y="244.6" width="3.2" height="23.1" rx="1.4" fill="none" stroke="#3da2da" stroke-width="1.1"/>
<rect x="162.0" y="214.7" width="3.2" height="28.4" rx="1.4" fill="none" stroke="#3da2da" stroke-width="1.1"/>
<rect x="162.0" y="248.1" width="3.2" height="23.8" rx="1.4" fill="none" stroke="#3da2da" stroke-width="1.1"/>
<rect x="167.3" y="218.9" width="3.2" height="27.7" rx="1.4" fill="none" stroke="#3da2da" stroke-width="1.1"/>
<rect x="167.3" y="251.7" width="3.2" height="24.5" rx="1.4" fill="none" stroke="#3da2da" stroke-width="1.1"/>
<rect x="172.6" y="223.1" width="3.2" height="27.1" rx="1.4" fill="none" stroke="#3da2da" stroke-width="1.1"/>
<rect x="172.6" y="255.2" width="3.2" height="25.1" rx="1.4" fill="none" stroke="#3da2da" stroke-width="1.1"/>
<rect x="177.9" y="227.3" width="3.2" height="26.5" rx="1.4" fill="none" stroke="#3da2da" stroke-width="1.1"/>
<rect x="177.9" y="258.8" width="3.2" height="25.8" rx="1.4" fill="none" stroke="#3da2da" stroke-width="1.1"/>
<rect x="183.2" y="231.5" width="3.2" height="25.8" rx="1.4" fill="none" stroke="#3da2da" stroke-width="1.1"/>
<rect x="183.2" y="262.3" width="3.2" height="26.5" rx="1.4" fill="none" stroke="#3da2da" stroke-width="1.1"/>
<rect x="188.5" y="210.0" width="3.2" height="50.9" rx="1.4" fill="none" stroke="#3da2da" stroke-width="1.1"/>
<rect x="188.5" y="265.9" width="3.2" height="27.2" rx="1.4" fill="none" stroke="#3da2da" stroke-width="1.1"/>
<rect x="193.8" y="210.0" width="3.2" height="54.4" rx="1.4" fill="none" stroke="#3da2da" stroke-width="1.1"/>
<rect x="193.8" y="269.4" width="3.2" height="27.9" rx="1.4" fill="none" stroke="#3da2da" stroke-width="1.1"/>
<line x1="150.0" y1="237.0" x2="201.0" y2="271.0" stroke="#b5e0f5" stroke-width="2.4" opacity="1" stroke-linecap="round"/>
<line x1="150.0" y1="202.0" x2="184.0" y2="229.0" stroke="#3da2da" stroke-width="1.2" opacity="1" stroke-linecap="round"/>
<polyline points="150.0,141.0 180.0,133.0 226.0,167.0" fill="none" stroke="#2a97d6" stroke-width="2.2" opacity="1" stroke-linejoin="round" stroke-linecap="round"/>
<polyline points="150.0,141.0 201.0,178.0" fill="none" stroke="#2a97d6" stroke-width="2.2" opacity="1" stroke-linejoin="round" stroke-linecap="round"/>
<polyline points="150.0,141.0 150.0,266.0 158.0,277.0 201.0,305.0" fill="none" stroke="#2a97d6" stroke-width="2.2" opacity="1" stroke-linejoin="round" stroke-linecap="round"/>
<path d="M150,199 L184,226 Q189,226 191,216 Q194,203 201,203" fill="none" stroke="#2a97d6" stroke-width="1.6" opacity="1" stroke-linejoin="round"/>
<polygon points="201.0,178.0 250.0,165.0 250.0,312.0 201.0,325.0" fill="#50ade0" stroke="none" stroke-width="0" stroke-linejoin="round" opacity="1"/>
<polygon points="208.5,183.0 210.1,183.0 210.1,314.0 208.5,314.0" fill="#8ccdee" stroke="none" stroke-width="0" stroke-linejoin="round" opacity="1"/>
<polygon points="214.5,183.0 216.1,183.0 216.1,314.0 214.5,314.0" fill="#8ccdee" stroke="none" stroke-width="0" stroke-linejoin="round" opacity="1"/>
<polygon points="217.5,183.0 222.5,183.0 222.5,314.0 217.5,314.0" fill="#8ccdee" stroke="none" stroke-width="0" stroke-linejoin="round" opacity="1"/>
<polygon points="228.5,183.0 230.1,183.0 230.1,314.0 228.5,314.0" fill="#8ccdee" stroke="none" stroke-width="0" stroke-linejoin="round" opacity="1"/>
<polygon points="234.5,183.0 236.1,183.0 236.1,314.0 234.5,314.0" fill="#8ccdee" stroke="none" stroke-width="0" stroke-linejoin="round" opacity="1"/>
<polygon points="238.0,168.0 250.0,165.0 250.0,312.0 238.0,314.0" fill="#3a9fd8" stroke="none" stroke-width="0" stroke-linejoin="round" opacity="1"/>
<line x1="223.5" y1="180.0" x2="223.5" y2="308.0" stroke="#2a97d6" stroke-width="1.6" opacity="1" stroke-linecap="round"/>
<line x1="206.0" y1="184.0" x2="206.0" y2="314.0" stroke="#2a97d6" stroke-width="1.6" opacity="1" stroke-linecap="round"/>
<line x1="244.0" y1="167.0" x2="244.0" y2="310.0" stroke="#8fcdee" stroke-width="1" opacity="1" stroke-linecap="round"/>
<line x1="206.0" y1="255.0" x2="238.0" y2="247.0" stroke="#2a97d6" stroke-width="1.4" opacity="1" stroke-linecap="round"/>
<line x1="201.0" y1="186.0" x2="238.0" y2="176.0" stroke="#2a97d6" stroke-width="1.6" opacity="1" stroke-linecap="round"/>
<line x1="206.0" y1="302.0" x2="238.0" y2="294.0" stroke="#45a8de" stroke-width="1.4" opacity="1" stroke-linecap="round"/>
<polyline points="201.0,178.0 250.0,165.0 250.0,312.0 201.0,325.0 201.0,178.0" fill="none" stroke="#2a97d6" stroke-width="2.4" opacity="1" stroke-linejoin="round" stroke-linecap="round"/>
<ellipse cx="231.0" cy="215.0" rx="1.2" ry="6.0" fill="#c6e6f7" opacity="1" transform="rotate(0 231.0 215.0)"/>
<ellipse cx="215.0" cy="275.0" rx="1.2" ry="8.0" fill="#c6e6f7" opacity="1" transform="rotate(0 215.0 275.0)"/>
<ellipse cx="231.0" cy="280.0" rx="1.2" ry="6.0" fill="#c6e6f7" opacity="1" transform="rotate(0 231.0 280.0)"/>

</svg>

<!-- top texts -->
<div class="t" style="left:407px;top:6px;font-size:16px;line-height:20px">Environnement et opérations à bord</div>
<div class="t" style="left:407px;top:47px;font-size:16px;line-height:20px;letter-spacing:0.07px">Développement d’architecture<br>d’équipement</div>

<!-- connector top -->
<div class="abs" style="left:388px;top:42px;width:2px;height:93px;background:#80858a"></div>
<div class="abs" style="left:366px;top:133px;width:24px;height:2px;background:#80858a"></div>

<!-- logo top -->
<svg class="abs" style="left:334px;top:118px" width="30" height="34" viewBox="0 0 30 34"><path d="M4.6,7.2 L7.9,4 C10.2,7.5 11.2,12.5 10.2,17.2 L8.2,17.6 C8.9,13.2 7.9,9.8 4.6,7.2 Z" fill="#5cae2f"/>
<path d="M16.3,10.8 L18.4,13.2 C14.2,15.4 10.3,18.2 7.4,21.8 C8.8,17.4 12.2,13.6 16.3,10.8 Z" fill="#5cae2f"/>
<path d="M10.1,30.4 C7,27.2 7.2,22.6 9.8,20.2 C12.5,17.5 16.5,16.1 20.4,15.7 L20.6,13.1 L25.3,15.4 L20.6,19.8 L20.4,18.8 C16.5,19 13.6,19.9 11.6,22.1 C9.9,24.3 9.5,27.5 10.1,30.4 Z" fill="#1f3f95"/></svg>
<svg class="abs" style="left:217.6px;top:470px" width="31" height="35" viewBox="0 0 30 34" ><g transform="scale(1.02)"><path d="M4.6,7.2 L7.9,4 C10.2,7.5 11.2,12.5 10.2,17.2 L8.2,17.6 C8.9,13.2 7.9,9.8 4.6,7.2 Z" fill="#5cae2f"/>
<path d="M16.3,10.8 L18.4,13.2 C14.2,15.4 10.3,18.2 7.4,21.8 C8.8,17.4 12.2,13.6 16.3,10.8 Z" fill="#5cae2f"/>
<path d="M10.1,30.4 C7,27.2 7.2,22.6 9.8,20.2 C12.5,17.5 16.5,16.1 20.4,15.7 L20.6,13.1 L25.3,15.4 L20.6,19.8 L20.4,18.8 C16.5,19 13.6,19.9 11.6,22.1 C9.9,24.3 9.5,27.5 10.1,30.4 Z" fill="#1f3f95"/></g></svg>

<!-- bottom text -->
<div class="t" style="left:2.6px;top:444px;font-size:15.8px;line-height:20px">Film de simulation 3D</div>
<div class="abs" style="left:158px;top:454px;width:33px;height:1.3px;background:#50555a"></div>
<div class="abs" style="left:189.5px;top:454px;width:1.3px;height:36px;background:#50555a"></div>
<div class="abs" style="left:189.5px;top:489px;width:31.5px;height:1.3px;background:#50555a"></div>

<!-- video -->
<div class="abs" style="left:253px;top:362px;width:406px;height:241px;background:#000"></div>
<div class="abs" style="left:659px;top:362px;width:25px;height:241px;background:linear-gradient(178deg,#00adef 0%,#00adef 56%,#0092d6 65.6%,#0074bb 73.9%,#00569f 82.2%,#003a7e 90.5%,#00205e 99%)"></div>
<svg class="abs" style="left:262px;top:367px" width="384" height="215" viewBox="262 367 384 215" id="vid">
<rect x="262.0" y="367.0" width="384.0" height="215.0" rx="0" fill="#dddbde" opacity="1"/>
<polygon points="262.0,367.0 290.0,367.0 300.0,390.0 277.0,399.0 262.0,405.0" fill="#e2e1e3" stroke="none" stroke-width="0" stroke-linejoin="round" opacity="1"/>
<polygon points="290.0,367.0 404.6,367.0 605.0,410.8 598.0,436.0 584.0,435.0 578.0,457.0 535.0,448.0 420.0,421.0 350.0,397.0 298.0,386.0" fill="#9a9a97" stroke="none" stroke-width="0" stroke-linejoin="round" opacity="1"/>
<line x1="404.6" y1="367.0" x2="605.0" y2="410.8" stroke="#6e6e70" stroke-width="1" opacity="1"/>
<polygon points="602.5,411.5 605.5,411.0 599.5,437.0 597.0,436.5" fill="#5a6068" stroke="none" stroke-width="0" stroke-linejoin="round" opacity="1"/>
<polygon points="290.0,367.0 350.0,367.0 350.0,397.0 298.0,386.0" fill="#aeaeac" stroke="none" stroke-width="0" stroke-linejoin="round" opacity="1"/>
<line x1="291.0" y1="368.0" x2="350.0" y2="380.0" stroke="#d88a3c" stroke-width="1.0" opacity="1"/>
<line x1="291.0" y1="372.6" x2="350.0" y2="384.6" stroke="#d88a3c" stroke-width="1.0" opacity="1"/>
<line x1="291.0" y1="377.2" x2="350.0" y2="389.2" stroke="#d88a3c" stroke-width="1.0" opacity="1"/>
<line x1="291.0" y1="381.8" x2="350.0" y2="393.8" stroke="#d88a3c" stroke-width="1.0" opacity="1"/>
<line x1="291.0" y1="386.4" x2="350.0" y2="398.4" stroke="#d88a3c" stroke-width="1.0" opacity="1"/>
<line x1="291.0" y1="391.0" x2="350.0" y2="403.0" stroke="#d88a3c" stroke-width="1.0" opacity="1"/>
<line x1="291.0" y1="395.6" x2="350.0" y2="407.6" stroke="#d88a3c" stroke-width="1.0" opacity="1"/>
<line x1="290.6" y1="367.0" x2="296.1" y2="385.0" stroke="#34406a" stroke-width="1.2" opacity="1"/>
<line x1="295.6" y1="367.0" x2="301.1" y2="386.5" stroke="#34406a" stroke-width="1.2" opacity="1"/>
<line x1="290.6" y1="367.0" x2="296.3" y2="369.2" stroke="#d88a3c" stroke-width="0.9" opacity="1"/>
<line x1="292.0" y1="371.5" x2="297.7" y2="373.8" stroke="#d88a3c" stroke-width="0.9" opacity="1"/>
<line x1="293.4" y1="376.0" x2="299.0" y2="378.2" stroke="#d88a3c" stroke-width="0.9" opacity="1"/>
<line x1="294.7" y1="380.5" x2="300.4" y2="382.8" stroke="#d88a3c" stroke-width="0.9" opacity="1"/>
<line x1="303.4" y1="367.0" x2="308.9" y2="390.0" stroke="#34406a" stroke-width="1.2" opacity="1"/>
<line x1="308.4" y1="367.0" x2="313.9" y2="391.5" stroke="#34406a" stroke-width="1.2" opacity="1"/>
<line x1="303.4" y1="367.0" x2="308.9" y2="369.3" stroke="#d88a3c" stroke-width="0.9" opacity="1"/>
<line x1="304.5" y1="371.6" x2="310.0" y2="373.9" stroke="#d88a3c" stroke-width="0.9" opacity="1"/>
<line x1="305.6" y1="376.2" x2="311.1" y2="378.5" stroke="#d88a3c" stroke-width="0.9" opacity="1"/>
<line x1="306.7" y1="380.8" x2="312.2" y2="383.1" stroke="#d88a3c" stroke-width="0.9" opacity="1"/>
<line x1="307.8" y1="385.4" x2="313.3" y2="387.7" stroke="#d88a3c" stroke-width="0.9" opacity="1"/>
<line x1="316.7" y1="367.0" x2="322.2" y2="393.0" stroke="#34406a" stroke-width="1.2" opacity="1"/>
<line x1="321.7" y1="367.0" x2="327.2" y2="394.5" stroke="#34406a" stroke-width="1.2" opacity="1"/>
<line x1="316.7" y1="367.0" x2="322.2" y2="369.2" stroke="#d88a3c" stroke-width="0.9" opacity="1"/>
<line x1="317.6" y1="371.3" x2="323.1" y2="373.5" stroke="#d88a3c" stroke-width="0.9" opacity="1"/>
<line x1="318.5" y1="375.7" x2="324.0" y2="377.8" stroke="#d88a3c" stroke-width="0.9" opacity="1"/>
<line x1="319.4" y1="380.0" x2="324.9" y2="382.2" stroke="#d88a3c" stroke-width="0.9" opacity="1"/>
<line x1="320.4" y1="384.3" x2="325.8" y2="386.5" stroke="#d88a3c" stroke-width="0.9" opacity="1"/>
<line x1="321.3" y1="388.7" x2="326.7" y2="390.8" stroke="#d88a3c" stroke-width="0.9" opacity="1"/>
<line x1="331.0" y1="367.0" x2="336.5" y2="396.5" stroke="#34406a" stroke-width="1.2" opacity="1"/>
<line x1="336.0" y1="367.0" x2="341.5" y2="398.0" stroke="#34406a" stroke-width="1.2" opacity="1"/>
<line x1="331.0" y1="367.0" x2="336.4" y2="369.1" stroke="#d88a3c" stroke-width="0.9" opacity="1"/>
<line x1="331.8" y1="371.2" x2="337.2" y2="373.3" stroke="#d88a3c" stroke-width="0.9" opacity="1"/>
<line x1="332.6" y1="375.4" x2="338.0" y2="377.5" stroke="#d88a3c" stroke-width="0.9" opacity="1"/>
<line x1="333.4" y1="379.6" x2="338.8" y2="381.8" stroke="#d88a3c" stroke-width="0.9" opacity="1"/>
<line x1="334.1" y1="383.9" x2="339.5" y2="386.0" stroke="#d88a3c" stroke-width="0.9" opacity="1"/>
<line x1="334.9" y1="388.1" x2="340.3" y2="390.2" stroke="#d88a3c" stroke-width="0.9" opacity="1"/>
<line x1="335.7" y1="392.3" x2="341.1" y2="394.4" stroke="#d88a3c" stroke-width="0.9" opacity="1"/>
<line x1="401.0" y1="385.0" x2="476.0" y2="404.0" stroke="#dc8a3a" stroke-width="1.0" opacity="1"/>
<line x1="401.0" y1="389.6" x2="476.0" y2="408.6" stroke="#dc8a3a" stroke-width="1.0" opacity="1"/>
<line x1="401.0" y1="394.2" x2="476.0" y2="413.2" stroke="#dc8a3a" stroke-width="1.0" opacity="1"/>
<line x1="401.0" y1="398.8" x2="476.0" y2="417.8" stroke="#dc8a3a" stroke-width="1.0" opacity="1"/>
<line x1="401.0" y1="403.4" x2="476.0" y2="422.4" stroke="#dc8a3a" stroke-width="1.0" opacity="1"/>
<line x1="401.0" y1="408.0" x2="476.0" y2="427.0" stroke="#dc8a3a" stroke-width="1.0" opacity="1"/>
<line x1="401.5" y1="383.7" x2="401.5" y2="415.0" stroke="#34406a" stroke-width="1.1" opacity="1"/>
<line x1="406.0" y1="383.7" x2="406.0" y2="415.0" stroke="#34406a" stroke-width="1.1" opacity="1"/>
<line x1="401.5" y1="385.7" x2="406.0" y2="387.7" stroke="#34406a" stroke-width="0.6" opacity="1"/>
<line x1="401.5" y1="389.7" x2="406.0" y2="391.7" stroke="#34406a" stroke-width="0.6" opacity="1"/>
<line x1="401.5" y1="393.7" x2="406.0" y2="395.7" stroke="#34406a" stroke-width="0.6" opacity="1"/>
<line x1="401.5" y1="397.7" x2="406.0" y2="399.7" stroke="#34406a" stroke-width="0.6" opacity="1"/>
<line x1="401.5" y1="401.7" x2="406.0" y2="403.7" stroke="#34406a" stroke-width="0.6" opacity="1"/>
<line x1="401.5" y1="405.7" x2="406.0" y2="407.7" stroke="#34406a" stroke-width="0.6" opacity="1"/>
<line x1="401.5" y1="409.7" x2="406.0" y2="411.7" stroke="#34406a" stroke-width="0.6" opacity="1"/>
<line x1="417.4" y1="387.0" x2="417.4" y2="419.0" stroke="#34406a" stroke-width="1.1" opacity="1"/>
<line x1="421.9" y1="387.0" x2="421.9" y2="419.0" stroke="#34406a" stroke-width="1.1" opacity="1"/>
<line x1="417.4" y1="389.0" x2="421.9" y2="391.0" stroke="#34406a" stroke-width="0.6" opacity="1"/>
<line x1="417.4" y1="393.0" x2="421.9" y2="395.0" stroke="#34406a" stroke-width="0.6" opacity="1"/>
<line x1="417.4" y1="397.0" x2="421.9" y2="399.0" stroke="#34406a" stroke-width="0.6" opacity="1"/>
<line x1="417.4" y1="401.0" x2="421.9" y2="403.0" stroke="#34406a" stroke-width="0.6" opacity="1"/>
<line x1="417.4" y1="405.0" x2="421.9" y2="407.0" stroke="#34406a" stroke-width="0.6" opacity="1"/>
<line x1="417.4" y1="409.0" x2="421.9" y2="411.0" stroke="#34406a" stroke-width="0.6" opacity="1"/>
<line x1="417.4" y1="413.0" x2="421.9" y2="415.0" stroke="#34406a" stroke-width="0.6" opacity="1"/>
<line x1="417.4" y1="417.0" x2="421.9" y2="419.0" stroke="#34406a" stroke-width="0.6" opacity="1"/>
<line x1="436.0" y1="391.0" x2="436.0" y2="424.0" stroke="#34406a" stroke-width="1.1" opacity="1"/>
<line x1="440.5" y1="391.0" x2="440.5" y2="424.0" stroke="#34406a" stroke-width="1.1" opacity="1"/>
<line x1="436.0" y1="393.0" x2="440.5" y2="395.0" stroke="#34406a" stroke-width="0.6" opacity="1"/>
<line x1="436.0" y1="397.0" x2="440.5" y2="399.0" stroke="#34406a" stroke-width="0.6" opacity="1"/>
<line x1="436.0" y1="401.0" x2="440.5" y2="403.0" stroke="#34406a" stroke-width="0.6" opacity="1"/>
<line x1="436.0" y1="405.0" x2="440.5" y2="407.0" stroke="#34406a" stroke-width="0.6" opacity="1"/>
<line x1="436.0" y1="409.0" x2="440.5" y2="411.0" stroke="#34406a" stroke-width="0.6" opacity="1"/>
<line x1="436.0" y1="413.0" x2="440.5" y2="415.0" stroke="#34406a" stroke-width="0.6" opacity="1"/>
<line x1="436.0" y1="417.0" x2="440.5" y2="419.0" stroke="#34406a" stroke-width="0.6" opacity="1"/>
<line x1="436.0" y1="421.0" x2="440.5" y2="423.0" stroke="#34406a" stroke-width="0.6" opacity="1"/>
<line x1="455.0" y1="396.0" x2="455.0" y2="428.0" stroke="#34406a" stroke-width="1.1" opacity="1"/>
<line x1="459.5" y1="396.0" x2="459.5" y2="428.0" stroke="#34406a" stroke-width="1.1" opacity="1"/>
<line x1="455.0" y1="398.0" x2="459.5" y2="400.0" stroke="#34406a" stroke-width="0.6" opacity="1"/>
<line x1="455.0" y1="402.0" x2="459.5" y2="404.0" stroke="#34406a" stroke-width="0.6" opacity="1"/>
<line x1="455.0" y1="406.0" x2="459.5" y2="408.0" stroke="#34406a" stroke-width="0.6" opacity="1"/>
<line x1="455.0" y1="410.0" x2="459.5" y2="412.0" stroke="#34406a" stroke-width="0.6" opacity="1"/>
<line x1="455.0" y1="414.0" x2="459.5" y2="416.0" stroke="#34406a" stroke-width="0.6" opacity="1"/>
<line x1="455.0" y1="418.0" x2="459.5" y2="420.0" stroke="#34406a" stroke-width="0.6" opacity="1"/>
<line x1="455.0" y1="422.0" x2="459.5" y2="424.0" stroke="#34406a" stroke-width="0.6" opacity="1"/>
<line x1="455.0" y1="426.0" x2="459.5" y2="428.0" stroke="#34406a" stroke-width="0.6" opacity="1"/>
<line x1="536.0" y1="420.0" x2="542.0" y2="421.5" stroke="#e0893a" stroke-width="1.1" opacity="1"/>
<line x1="536.0" y1="426.0" x2="542.0" y2="427.5" stroke="#e0893a" stroke-width="1.1" opacity="1"/>
<line x1="536.0" y1="432.0" x2="542.0" y2="433.5" stroke="#e0893a" stroke-width="1.1" opacity="1"/>
<line x1="536.0" y1="438.0" x2="542.0" y2="439.5" stroke="#e0893a" stroke-width="1.1" opacity="1"/>
<line x1="543.0" y1="409.0" x2="540.0" y2="447.0" stroke="#34406a" stroke-width="1.4" opacity="1"/>
<polygon points="277.0,399.5 298.0,386.0 350.0,396.5 401.0,414.0 540.0,446.0 583.0,458.0 578.0,470.0 560.0,470.0 528.0,451.5 514.0,493.0 506.0,500.0 488.0,552.0 481.0,555.0 480.0,575.0 500.0,582.0 430.0,582.0 442.0,558.0 452.0,540.0 470.0,522.0 478.0,490.0 496.0,444.0 432.0,426.6 431.0,442.0 408.0,437.0 367.0,407.6 353.0,420.0" fill="#14c208" stroke="none" stroke-width="0" stroke-linejoin="round" opacity="1"/>
<polygon points="401.0,411.8 540.0,440.0 540.0,447.0 401.0,417.0" fill="#d20000" stroke="none" stroke-width="0" stroke-linejoin="round" opacity="1"/>
<polygon points="348.0,368.6 364.8,370.7 382.0,375.0 400.0,378.0 400.5,412.9 352.7,403.8" fill="#16161a" stroke="none" stroke-width="0" stroke-linejoin="round" opacity="1"/>
<rect x="349.1" y="372.4" width="2.3" height="2.2" rx="0" fill="#c0c0c0" opacity="1"/>
<rect x="349.1" y="378.8" width="2.3" height="2.2" rx="0" fill="#c0c0c0" opacity="1"/>
<rect x="349.1" y="385.2" width="2.3" height="2.2" rx="0" fill="#c0c0c0" opacity="1"/>
<rect x="349.1" y="391.6" width="2.3" height="2.2" rx="0" fill="#c0c0c0" opacity="1"/>
<rect x="349.1" y="398.0" width="2.3" height="2.2" rx="0" fill="#c0c0c0" opacity="1"/>
<rect x="353.9" y="373.5" width="2.3" height="2.2" rx="0" fill="#c0c0c0" opacity="1"/>
<rect x="353.9" y="379.9" width="2.3" height="2.2" rx="0" fill="#c0c0c0" opacity="1"/>
<rect x="353.9" y="386.3" width="2.3" height="2.2" rx="0" fill="#c0c0c0" opacity="1"/>
<rect x="353.9" y="392.7" width="2.3" height="2.2" rx="0" fill="#c0c0c0" opacity="1"/>
<rect x="353.9" y="399.1" width="2.3" height="2.2" rx="0" fill="#c0c0c0" opacity="1"/>
<rect x="358.7" y="374.6" width="2.3" height="2.2" rx="0" fill="#c0c0c0" opacity="1"/>
<rect x="358.7" y="381.0" width="2.3" height="2.2" rx="0" fill="#c0c0c0" opacity="1"/>
<rect x="358.7" y="387.4" width="2.3" height="2.2" rx="0" fill="#c0c0c0" opacity="1"/>
<rect x="358.7" y="393.8" width="2.3" height="2.2" rx="0" fill="#c0c0c0" opacity="1"/>
<rect x="358.7" y="400.2" width="2.3" height="2.2" rx="0" fill="#c0c0c0" opacity="1"/>
<rect x="365.0" y="375.9" width="2.3" height="2.2" rx="0" fill="#c0c0c0" opacity="1"/>
<rect x="365.0" y="382.3" width="2.3" height="2.2" rx="0" fill="#c0c0c0" opacity="1"/>
<rect x="365.0" y="388.7" width="2.3" height="2.2" rx="0" fill="#c0c0c0" opacity="1"/>
<rect x="365.0" y="395.1" width="2.3" height="2.2" rx="0" fill="#c0c0c0" opacity="1"/>
<rect x="365.0" y="401.5" width="2.3" height="2.2" rx="0" fill="#c0c0c0" opacity="1"/>
<rect x="369.8" y="377.0" width="2.3" height="2.2" rx="0" fill="#c0c0c0" opacity="1"/>
<rect x="369.8" y="383.4" width="2.3" height="2.2" rx="0" fill="#c0c0c0" opacity="1"/>
<rect x="369.8" y="389.8" width="2.3" height="2.2" rx="0" fill="#c0c0c0" opacity="1"/>
<rect x="369.8" y="396.2" width="2.3" height="2.2" rx="0" fill="#c0c0c0" opacity="1"/>
<rect x="369.8" y="402.6" width="2.3" height="2.2" rx="0" fill="#c0c0c0" opacity="1"/>
<rect x="374.6" y="378.1" width="2.3" height="2.2" rx="0" fill="#c0c0c0" opacity="1"/>
<rect x="374.6" y="384.5" width="2.3" height="2.2" rx="0" fill="#c0c0c0" opacity="1"/>
<rect x="374.6" y="390.9" width="2.3" height="2.2" rx="0" fill="#c0c0c0" opacity="1"/>
<rect x="374.6" y="397.3" width="2.3" height="2.2" rx="0" fill="#c0c0c0" opacity="1"/>
<rect x="374.6" y="403.7" width="2.3" height="2.2" rx="0" fill="#c0c0c0" opacity="1"/>
<rect x="380.9" y="379.4" width="2.3" height="2.2" rx="0" fill="#c0c0c0" opacity="1"/>
<rect x="380.9" y="385.8" width="2.3" height="2.2" rx="0" fill="#c0c0c0" opacity="1"/>
<rect x="380.9" y="392.2" width="2.3" height="2.2" rx="0" fill="#c0c0c0" opacity="1"/>
<rect x="380.9" y="398.6" width="2.3" height="2.2" rx="0" fill="#c0c0c0" opacity="1"/>
<rect x="380.9" y="405.0" width="2.3" height="2.2" rx="0" fill="#c0c0c0" opacity="1"/>
<rect x="385.7" y="380.5" width="2.3" height="2.2" rx="0" fill="#c0c0c0" opacity="1"/>
<rect x="385.7" y="386.9" width="2.3" height="2.2" rx="0" fill="#c0c0c0" opacity="1"/>
<rect x="385.7" y="393.3" width="2.3" height="2.2" rx="0" fill="#c0c0c0" opacity="1"/>
<rect x="385.7" y="399.7" width="2.3" height="2.2" rx="0" fill="#c0c0c0" opacity="1"/>
<rect x="385.7" y="406.1" width="2.3" height="2.2" rx="0" fill="#c0c0c0" opacity="1"/>
<rect x="390.5" y="381.6" width="2.3" height="2.2" rx="0" fill="#c0c0c0" opacity="1"/>
<rect x="390.5" y="388.0" width="2.3" height="2.2" rx="0" fill="#c0c0c0" opacity="1"/>
<rect x="390.5" y="394.4" width="2.3" height="2.2" rx="0" fill="#c0c0c0" opacity="1"/>
<rect x="390.5" y="400.8" width="2.3" height="2.2" rx="0" fill="#c0c0c0" opacity="1"/>
<rect x="390.5" y="407.2" width="2.3" height="2.2" rx="0" fill="#c0c0c0" opacity="1"/>
<line x1="349.0" y1="377.0" x2="401.0" y2="388.5" stroke="#b8702a" stroke-width="0.9" opacity="1"/>
<line x1="349.0" y1="383.4" x2="401.0" y2="394.9" stroke="#b8702a" stroke-width="0.9" opacity="1"/>
<line x1="349.0" y1="389.8" x2="401.0" y2="401.3" stroke="#b8702a" stroke-width="0.9" opacity="1"/>
<line x1="349.0" y1="396.2" x2="401.0" y2="407.7" stroke="#b8702a" stroke-width="0.9" opacity="1"/>
<polygon points="476.3,397.7 497.0,401.2 498.0,402.3 518.7,405.8 518.7,443.0 498.0,439.0 476.3,435.6" fill="#16161a" stroke="none" stroke-width="0" stroke-linejoin="round" opacity="1"/>
<polygon points="519.3,407.5 540.5,410.9 540.5,432.0 519.3,434.0" fill="#16161a" stroke="none" stroke-width="0" stroke-linejoin="round" opacity="1"/>
<rect x="477.5" y="402.4" width="2.4" height="2.2" rx="0" fill="#c0c0c0" opacity="1"/>
<rect x="477.5" y="409.4" width="2.4" height="2.2" rx="0" fill="#c0c0c0" opacity="1"/>
<rect x="477.5" y="416.4" width="2.4" height="2.2" rx="0" fill="#c0c0c0" opacity="1"/>
<rect x="477.5" y="423.4" width="2.4" height="2.2" rx="0" fill="#c0c0c0" opacity="1"/>
<rect x="477.5" y="430.4" width="2.4" height="2.2" rx="0" fill="#c0c0c0" opacity="1"/>
<rect x="483.2" y="403.8" width="2.4" height="2.2" rx="0" fill="#c0c0c0" opacity="1"/>
<rect x="483.2" y="410.8" width="2.4" height="2.2" rx="0" fill="#c0c0c0" opacity="1"/>
<rect x="483.2" y="417.8" width="2.4" height="2.2" rx="0" fill="#c0c0c0" opacity="1"/>
<rect x="483.2" y="424.8" width="2.4" height="2.2" rx="0" fill="#c0c0c0" opacity="1"/>
<rect x="483.2" y="431.8" width="2.4" height="2.2" rx="0" fill="#c0c0c0" opacity="1"/>
<rect x="489.5" y="405.4" width="2.4" height="2.2" rx="0" fill="#c0c0c0" opacity="1"/>
<rect x="489.5" y="412.4" width="2.4" height="2.2" rx="0" fill="#c0c0c0" opacity="1"/>
<rect x="489.5" y="419.4" width="2.4" height="2.2" rx="0" fill="#c0c0c0" opacity="1"/>
<rect x="489.5" y="426.4" width="2.4" height="2.2" rx="0" fill="#c0c0c0" opacity="1"/>
<rect x="489.5" y="433.4" width="2.4" height="2.2" rx="0" fill="#c0c0c0" opacity="1"/>
<rect x="498.7" y="407.7" width="2.4" height="2.2" rx="0" fill="#c0c0c0" opacity="1"/>
<rect x="498.7" y="414.7" width="2.4" height="2.2" rx="0" fill="#c0c0c0" opacity="1"/>
<rect x="498.7" y="421.7" width="2.4" height="2.2" rx="0" fill="#c0c0c0" opacity="1"/>
<rect x="498.7" y="428.7" width="2.4" height="2.2" rx="0" fill="#c0c0c0" opacity="1"/>
<rect x="498.7" y="435.7" width="2.4" height="2.2" rx="0" fill="#c0c0c0" opacity="1"/>
<rect x="504.4" y="409.1" width="2.4" height="2.2" rx="0" fill="#c0c0c0" opacity="1"/>
<rect x="504.4" y="416.1" width="2.4" height="2.2" rx="0" fill="#c0c0c0" opacity="1"/>
<rect x="504.4" y="423.1" width="2.4" height="2.2" rx="0" fill="#c0c0c0" opacity="1"/>
<rect x="504.4" y="430.1" width="2.4" height="2.2" rx="0" fill="#c0c0c0" opacity="1"/>
<rect x="504.4" y="437.1" width="2.4" height="2.2" rx="0" fill="#c0c0c0" opacity="1"/>
<rect x="510.7" y="410.7" width="2.4" height="2.2" rx="0" fill="#c0c0c0" opacity="1"/>
<rect x="510.7" y="417.7" width="2.4" height="2.2" rx="0" fill="#c0c0c0" opacity="1"/>
<rect x="510.7" y="424.7" width="2.4" height="2.2" rx="0" fill="#c0c0c0" opacity="1"/>
<rect x="510.7" y="431.7" width="2.4" height="2.2" rx="0" fill="#c0c0c0" opacity="1"/>
<rect x="510.7" y="438.7" width="2.4" height="2.2" rx="0" fill="#c0c0c0" opacity="1"/>
<rect x="520.5" y="413.1" width="2.4" height="2.2" rx="0" fill="#c0c0c0" opacity="1"/>
<rect x="520.5" y="420.1" width="2.4" height="2.2" rx="0" fill="#c0c0c0" opacity="1"/>
<rect x="520.5" y="427.1" width="2.4" height="2.2" rx="0" fill="#c0c0c0" opacity="1"/>
<rect x="526.8" y="414.7" width="2.4" height="2.2" rx="0" fill="#c0c0c0" opacity="1"/>
<rect x="526.8" y="421.7" width="2.4" height="2.2" rx="0" fill="#c0c0c0" opacity="1"/>
<rect x="526.8" y="428.7" width="2.4" height="2.2" rx="0" fill="#c0c0c0" opacity="1"/>
<rect x="533.1" y="416.3" width="2.4" height="2.2" rx="0" fill="#c0c0c0" opacity="1"/>
<rect x="533.1" y="423.3" width="2.4" height="2.2" rx="0" fill="#c0c0c0" opacity="1"/>
<rect x="533.1" y="430.3" width="2.4" height="2.2" rx="0" fill="#c0c0c0" opacity="1"/>
<line x1="477.0" y1="407.0" x2="540.0" y2="422.0" stroke="#b8702a" stroke-width="0.9" opacity="1"/>
<line x1="477.0" y1="414.0" x2="540.0" y2="429.0" stroke="#b8702a" stroke-width="0.9" opacity="1"/>
<line x1="477.0" y1="421.0" x2="540.0" y2="436.0" stroke="#b8702a" stroke-width="0.9" opacity="1"/>
<line x1="477.0" y1="428.0" x2="540.0" y2="443.0" stroke="#b8702a" stroke-width="0.9" opacity="1"/>
<text x="460" y="388" font-family="Liberation Sans" font-size="5.6" font-weight="bold" letter-spacing="-0.25" fill="#111" transform="rotate(11 460 388)">Rack réception</text>
<polygon points="366.9,408.0 407.6,418.9 408.8,436.7 369.8,427.5" fill="#c6c8f4" stroke="none" stroke-width="0" stroke-linejoin="round" opacity="1"/>
<polygon points="343.4,428.1 366.9,408.0 369.8,427.5 363.5,433.8" fill="#9ea0c4" stroke="none" stroke-width="0" stroke-linejoin="round" opacity="1"/>
<polygon points="363.5,433.8 369.8,427.5 408.8,436.7 431.0,442.0 433.0,444.0 421.0,452.6 420.0,450.4" fill="#c8faf4" stroke="none" stroke-width="0" stroke-linejoin="round" opacity="1"/>
<polygon points="343.4,428.1 363.5,433.8 420.0,450.4 420.0,461.9 408.8,465.3 348.6,447.0" fill="#c0c6f4" stroke="none" stroke-width="0" stroke-linejoin="round" opacity="1"/>
<polygon points="420.0,450.4 424.0,449.0 421.0,466.0 408.8,465.3 420.0,461.9" fill="#aeb0da" stroke="none" stroke-width="0" stroke-linejoin="round" opacity="1"/>
<line x1="348.6" y1="447.0" x2="408.8" y2="465.3" stroke="#666878" stroke-width="0.8" opacity="1"/>
<polygon points="293.0,500.0 347.4,447.0 406.2,464.6 398.0,482.0 374.6,531.7" fill="#a4a2a5" stroke="none" stroke-width="0" stroke-linejoin="round" opacity="1"/>
<text x="344" y="483" font-family="Liberation Sans" font-size="5.6" font-weight="bold" letter-spacing="-0.3" fill="#111" transform="rotate(21 344 483)">Nettoyage Fauteuils</text>
<polygon points="421.0,452.6 432.0,436.0 496.0,452.0 470.0,505.0 454.0,533.0 442.0,548.0 371.0,513.0 397.0,480.0 420.0,466.0" fill="#c8faf4" stroke="none" stroke-width="0" stroke-linejoin="round" opacity="1"/>
<polygon points="432.0,426.6 496.0,442.3 496.0,462.7 432.0,448.0" fill="#dedef7" stroke="none" stroke-width="0" stroke-linejoin="round" opacity="1"/>
<line x1="432.0" y1="426.6" x2="496.0" y2="442.3" stroke="#8a8ca8" stroke-width="0.7" opacity="1"/>
<text x="437" y="432.5" font-family="Liberation Sans" font-size="2.6" fill="#222" transform="rotate(13 437 432.5)">Magasin de pièces de rechange</text>
<polygon points="440.0,435.0 490.0,447.0 490.0,462.0 440.0,450.0" fill="#f3efe8" stroke="none" stroke-width="0" stroke-linejoin="round" opacity="1"/>
<line x1="440.0" y1="434.0" x2="440.0" y2="451.0" stroke="#505668" stroke-width="0.9" opacity="1"/>
<line x1="448.2" y1="436.0" x2="448.2" y2="453.0" stroke="#505668" stroke-width="0.9" opacity="1"/>
<line x1="456.4" y1="438.0" x2="456.4" y2="455.0" stroke="#505668" stroke-width="0.9" opacity="1"/>
<line x1="464.6" y1="440.0" x2="464.6" y2="457.0" stroke="#505668" stroke-width="0.9" opacity="1"/>
<line x1="472.8" y1="442.0" x2="472.8" y2="459.0" stroke="#505668" stroke-width="0.9" opacity="1"/>
<line x1="481.0" y1="444.0" x2="481.0" y2="461.0" stroke="#505668" stroke-width="0.9" opacity="1"/>
<line x1="489.2" y1="446.0" x2="489.2" y2="463.0" stroke="#505668" stroke-width="0.9" opacity="1"/>
<line x1="440.0" y1="438.5" x2="490.0" y2="450.5" stroke="#d49050" stroke-width="0.8" opacity="1"/>
<line x1="440.0" y1="441.8" x2="490.0" y2="453.8" stroke="#d49050" stroke-width="0.8" opacity="1"/>
<line x1="440.0" y1="445.1" x2="490.0" y2="457.1" stroke="#d49050" stroke-width="0.8" opacity="1"/>
<line x1="440.0" y1="448.4" x2="490.0" y2="460.4" stroke="#d49050" stroke-width="0.8" opacity="1"/>
<polygon points="432.0,436.0 440.0,437.5 440.0,452.0 432.0,450.0" fill="#5c5c6a" stroke="none" stroke-width="0" stroke-linejoin="round" opacity="1"/>
<line x1="432.0" y1="439.0" x2="440.0" y2="440.5" stroke="#c0c0c8" stroke-width="0.6" opacity="1"/>
<line x1="432.0" y1="442.0" x2="440.0" y2="443.5" stroke="#c0c0c8" stroke-width="0.6" opacity="1"/>
<line x1="432.0" y1="445.0" x2="440.0" y2="446.5" stroke="#c0c0c8" stroke-width="0.6" opacity="1"/>
<line x1="432.0" y1="448.0" x2="440.0" y2="449.5" stroke="#c0c0c8" stroke-width="0.6" opacity="1"/>
<polygon points="449.0,450.0 491.0,460.0 480.0,477.0 445.0,469.0" fill="#5b7ff0" stroke="none" stroke-width="0" stroke-linejoin="round" opacity="1"/>
<text x="455" y="465" font-family="Liberation Sans" font-size="2.4" fill="#222" transform="rotate(13 455 465)">Zone de stockage</text>
<polygon points="422.5,450.0 430.0,445.6 454.0,452.0 454.0,467.3 422.5,462.0" fill="#1b1f2c" stroke="none" stroke-width="0" stroke-linejoin="round" opacity="1"/>
<rect x="424.0" y="449.0" width="1.6" height="1.4" rx="0" fill="#7d8494" opacity="1"/>
<rect x="428.3" y="449.9" width="1.6" height="1.4" rx="0" fill="#7d8494" opacity="1"/>
<rect x="432.6" y="450.9" width="1.6" height="1.4" rx="0" fill="#7d8494" opacity="1"/>
<rect x="436.9" y="451.8" width="1.6" height="1.4" rx="0" fill="#7d8494" opacity="1"/>
<rect x="441.2" y="452.8" width="1.6" height="1.4" rx="0" fill="#7d8494" opacity="1"/>
<rect x="445.5" y="453.7" width="1.6" height="1.4" rx="0" fill="#7d8494" opacity="1"/>
<rect x="449.8" y="454.7" width="1.6" height="1.4" rx="0" fill="#7d8494" opacity="1"/>
<rect x="424.0" y="453.3" width="1.6" height="1.4" rx="0" fill="#7d8494" opacity="1"/>
<rect x="428.3" y="454.2" width="1.6" height="1.4" rx="0" fill="#7d8494" opacity="1"/>
<rect x="432.6" y="455.2" width="1.6" height="1.4" rx="0" fill="#7d8494" opacity="1"/>
<rect x="436.9" y="456.1" width="1.6" height="1.4" rx="0" fill="#7d8494" opacity="1"/>
<rect x="441.2" y="457.1" width="1.6" height="1.4" rx="0" fill="#7d8494" opacity="1"/>
<rect x="445.5" y="458.0" width="1.6" height="1.4" rx="0" fill="#7d8494" opacity="1"/>
<rect x="449.8" y="459.0" width="1.6" height="1.4" rx="0" fill="#7d8494" opacity="1"/>
<rect x="424.0" y="457.6" width="1.6" height="1.4" rx="0" fill="#7d8494" opacity="1"/>
<rect x="428.3" y="458.5" width="1.6" height="1.4" rx="0" fill="#7d8494" opacity="1"/>
<rect x="432.6" y="459.5" width="1.6" height="1.4" rx="0" fill="#7d8494" opacity="1"/>
<rect x="436.9" y="460.4" width="1.6" height="1.4" rx="0" fill="#7d8494" opacity="1"/>
<rect x="441.2" y="461.4" width="1.6" height="1.4" rx="0" fill="#7d8494" opacity="1"/>
<rect x="445.5" y="462.3" width="1.6" height="1.4" rx="0" fill="#7d8494" opacity="1"/>
<rect x="449.8" y="463.3" width="1.6" height="1.4" rx="0" fill="#7d8494" opacity="1"/>
<rect x="424.0" y="461.9" width="1.6" height="1.4" rx="0" fill="#7d8494" opacity="1"/>
<rect x="428.3" y="462.8" width="1.6" height="1.4" rx="0" fill="#7d8494" opacity="1"/>
<rect x="432.6" y="463.8" width="1.6" height="1.4" rx="0" fill="#7d8494" opacity="1"/>
<rect x="436.9" y="464.7" width="1.6" height="1.4" rx="0" fill="#7d8494" opacity="1"/>
<rect x="441.2" y="465.7" width="1.6" height="1.4" rx="0" fill="#7d8494" opacity="1"/>
<rect x="445.5" y="466.6" width="1.6" height="1.4" rx="0" fill="#7d8494" opacity="1"/>
<rect x="449.8" y="467.6" width="1.6" height="1.4" rx="0" fill="#7d8494" opacity="1"/>
<polygon points="427.0,476.0 432.0,478.0 432.0,483.0 427.0,481.0" fill="#8c2a2a" stroke="none" stroke-width="0" stroke-linejoin="round" opacity="0.85"/>
<polygon points="432.0,478.0 440.0,474.0 440.0,479.0 432.0,483.0" fill="#9a3030" stroke="none" stroke-width="0" stroke-linejoin="round" opacity="0.85"/>
<polygon points="427.0,473.0 433.0,470.0 440.0,473.0 433.0,477.0" fill="#d4d8e0" stroke="none" stroke-width="0" stroke-linejoin="round" opacity="1"/>
<polygon points="430.0,472.5 434.0,471.0 437.0,473.0 433.0,475.0" fill="#3a4a6a" stroke="none" stroke-width="0" stroke-linejoin="round" opacity="1"/>
<polygon points="415.0,494.0 420.0,496.0 420.0,501.0 415.0,499.0" fill="#8c2a2a" stroke="none" stroke-width="0" stroke-linejoin="round" opacity="0.85"/>
<polygon points="420.0,496.0 428.0,492.0 428.0,497.0 420.0,501.0" fill="#9a3030" stroke="none" stroke-width="0" stroke-linejoin="round" opacity="0.85"/>
<polygon points="415.0,491.0 421.0,488.0 428.0,491.0 421.0,495.0" fill="#d4d8e0" stroke="none" stroke-width="0" stroke-linejoin="round" opacity="1"/>
<polygon points="418.0,490.5 422.0,489.0 425.0,491.0 421.0,493.0" fill="#3a4a6a" stroke="none" stroke-width="0" stroke-linejoin="round" opacity="1"/>
<polygon points="453.0,485.0 458.0,487.0 458.0,492.0 453.0,490.0" fill="#8c2a2a" stroke="none" stroke-width="0" stroke-linejoin="round" opacity="0.85"/>
<polygon points="458.0,487.0 466.0,483.0 466.0,488.0 458.0,492.0" fill="#9a3030" stroke="none" stroke-width="0" stroke-linejoin="round" opacity="0.85"/>
<polygon points="453.0,482.0 459.0,479.0 466.0,482.0 459.0,486.0" fill="#d4d8e0" stroke="none" stroke-width="0" stroke-linejoin="round" opacity="1"/>
<polygon points="456.0,481.5 460.0,480.0 463.0,482.0 459.0,484.0" fill="#3a4a6a" stroke="none" stroke-width="0" stroke-linejoin="round" opacity="1"/>
<polygon points="441.0,504.0 446.0,506.0 446.0,511.0 441.0,509.0" fill="#8c2a2a" stroke="none" stroke-width="0" stroke-linejoin="round" opacity="0.85"/>
<polygon points="446.0,506.0 454.0,502.0 454.0,507.0 446.0,511.0" fill="#9a3030" stroke="none" stroke-width="0" stroke-linejoin="round" opacity="0.85"/>
<polygon points="441.0,501.0 447.0,498.0 454.0,501.0 447.0,505.0" fill="#d4d8e0" stroke="none" stroke-width="0" stroke-linejoin="round" opacity="1"/>
<polygon points="444.0,500.5 448.0,499.0 451.0,501.0 447.0,503.0" fill="#3a4a6a" stroke="none" stroke-width="0" stroke-linejoin="round" opacity="1"/>
<rect x="401.0" y="490.0" width="7.0" height="7.0" rx="0" fill="#b01420" opacity="1"/>
<rect x="402.0" y="487.0" width="5.0" height="3.0" rx="0" fill="#444" opacity="1"/>
<rect x="414.0" y="475.0" width="7.0" height="7.0" rx="0" fill="#b01420" opacity="1"/>
<rect x="415.0" y="472.0" width="5.0" height="3.0" rx="0" fill="#444" opacity="1"/>
<rect x="421.0" y="476.0" width="3.0" height="9.0" rx="0" fill="#2f78c8" opacity="1"/>
<circle cx="422.5" cy="475" r="1.4" fill="#e8c070"/>
<rect x="412.0" y="491.0" width="3.0" height="9.0" rx="0" fill="#2f78c8" opacity="1"/>
<circle cx="413.5" cy="490" r="1.4" fill="#e8c070"/>
<rect x="453.0" y="507.0" width="3.0" height="9.0" rx="0" fill="#2f78c8" opacity="1"/>
<circle cx="454.5" cy="506" r="1.4" fill="#e8c070"/>
<rect x="462.0" y="486.0" width="3.0" height="9.0" rx="0" fill="#2f78c8" opacity="1"/>
<circle cx="463.5" cy="485" r="1.4" fill="#e8c070"/>
<rect x="469.0" y="478.0" width="3.0" height="9.0" rx="0" fill="#2f78c8" opacity="1"/>
<circle cx="470.5" cy="477" r="1.4" fill="#e8c070"/>
<polygon points="488.0,445.0 496.0,442.3 498.0,447.0 470.0,505.0 461.0,521.0 454.0,533.0 450.0,533.0 465.0,502.0" fill="#c2c4f0" stroke="none" stroke-width="0" stroke-linejoin="round" opacity="1"/>
<polygon points="488.0,445.0 493.0,446.0 470.0,500.0 464.0,502.0" fill="#b4b6e4" stroke="none" stroke-width="0" stroke-linejoin="round" opacity="1"/>
<polygon points="396.0,480.0 398.0,478.0 421.0,452.6 421.0,466.0 374.6,531.7 371.0,513.0" fill="#a9aad2" stroke="none" stroke-width="0" stroke-linejoin="round" opacity="1"/>
<polygon points="426.0,521.6 454.0,527.0 454.0,540.0 446.0,553.0 442.0,538.9 428.0,533.0" fill="#2b4674" stroke="none" stroke-width="0" stroke-linejoin="round" opacity="1"/>
<rect x="428.0" y="523.0" width="6.0" height="4.0" rx="0" fill="#3d5c8c" opacity="1"/>
<rect x="436.0" y="525.0" width="6.0" height="4.0" rx="0" fill="#3d5c8c" opacity="1"/>
<rect x="444.0" y="527.0" width="6.0" height="4.0" rx="0" fill="#3d5c8c" opacity="1"/>
<polygon points="381.0,508.0 393.0,512.0 393.0,518.0 381.0,514.0" fill="#f0c020" stroke="none" stroke-width="0" stroke-linejoin="round" opacity="1"/>
<polygon points="382.0,498.0 388.0,490.0 393.0,504.0 387.0,510.0" fill="#f6f2ea" stroke="none" stroke-width="0" stroke-linejoin="round" opacity="1"/>
<line x1="388.0" y1="490.0" x2="388.0" y2="512.0" stroke="#606878" stroke-width="0.8" opacity="1"/>
<polygon points="396.0,513.0 408.0,517.0 408.0,523.0 396.0,519.0" fill="#f0c020" stroke="none" stroke-width="0" stroke-linejoin="round" opacity="1"/>
<polygon points="397.0,503.0 403.0,495.0 408.0,509.0 402.0,515.0" fill="#f6f2ea" stroke="none" stroke-width="0" stroke-linejoin="round" opacity="1"/>
<line x1="403.0" y1="495.0" x2="403.0" y2="517.0" stroke="#606878" stroke-width="0.8" opacity="1"/>
<polygon points="411.0,518.0 423.0,522.0 423.0,528.0 411.0,524.0" fill="#f0c020" stroke="none" stroke-width="0" stroke-linejoin="round" opacity="1"/>
<polygon points="412.0,508.0 418.0,500.0 423.0,514.0 417.0,520.0" fill="#f6f2ea" stroke="none" stroke-width="0" stroke-linejoin="round" opacity="1"/>
<line x1="418.0" y1="500.0" x2="418.0" y2="522.0" stroke="#606878" stroke-width="0.8" opacity="1"/>
<polygon points="370.3,513.0 442.0,538.9 442.0,557.5 374.6,531.7" fill="#bcc6f6" stroke="none" stroke-width="0" stroke-linejoin="round" opacity="1"/>
<line x1="374.6" y1="531.7" x2="442.0" y2="557.5" stroke="#666878" stroke-width="0.8" opacity="1"/>
<polygon points="442.0,538.9 454.0,533.0 452.0,550.0 442.0,557.5" fill="#9fa0c8" stroke="none" stroke-width="0" stroke-linejoin="round" opacity="1"/>
<polygon points="464.0,497.0 479.0,500.0 479.0,520.5 464.0,517.0" fill="#2c3038" stroke="none" stroke-width="0" stroke-linejoin="round" opacity="1"/>
<line x1="465.0" y1="499.0" x2="478.0" y2="502.0" stroke="#c8ccd4" stroke-width="0.7" opacity="1"/>
<line x1="465.0" y1="502.2" x2="478.0" y2="505.2" stroke="#c8ccd4" stroke-width="0.7" opacity="1"/>
<line x1="465.0" y1="505.4" x2="478.0" y2="508.4" stroke="#c8ccd4" stroke-width="0.7" opacity="1"/>
<line x1="465.0" y1="508.6" x2="478.0" y2="511.6" stroke="#c8ccd4" stroke-width="0.7" opacity="1"/>
<line x1="465.0" y1="511.8" x2="478.0" y2="514.8" stroke="#c8ccd4" stroke-width="0.7" opacity="1"/>
<line x1="465.0" y1="515.0" x2="478.0" y2="518.0" stroke="#c8ccd4" stroke-width="0.7" opacity="1"/>
<polygon points="474.6,490.0 487.6,494.0 487.6,505.0 474.6,501.0" fill="#7a5a4a" stroke="none" stroke-width="0" stroke-linejoin="round" opacity="1"/>
<line x1="475.0" y1="494.0" x2="487.0" y2="498.0" stroke="#a88870" stroke-width="0.6" opacity="1"/>
<line x1="475.0" y1="498.0" x2="487.0" y2="502.0" stroke="#a88870" stroke-width="0.6" opacity="1"/>
<polygon points="528.3,451.6 574.8,463.4 569.3,478.4 526.0,465.8" fill="#efeff2" stroke="none" stroke-width="0" stroke-linejoin="round" opacity="1"/>
<text x="543" y="460.5" font-family="Liberation Sans" font-size="4.2" font-weight="bold" letter-spacing="-0.15" fill="#111" transform="rotate(16 543 460.5)">Quarantaine</text>
<polygon points="526.0,465.8 569.3,478.4 564.6,497.3 519.6,486.2" fill="#c6c6f4" stroke="none" stroke-width="0" stroke-linejoin="round" opacity="1"/>
<polygon points="526.0,452.5 528.5,451.6 515.0,495.0 512.5,495.0" fill="#70767a" stroke="none" stroke-width="0" stroke-linejoin="round" opacity="1"/>
<polygon points="518.0,486.2 539.3,491.0 534.6,506.0 512.0,500.0 514.0,493.0" fill="#c8faf4" stroke="none" stroke-width="0" stroke-linejoin="round" opacity="1"/>
<polygon points="514.0,487.0 524.0,489.0 523.0,500.0 513.0,498.0" fill="#2c4a78" stroke="none" stroke-width="0" stroke-linejoin="round" opacity="1"/>
<polygon points="539.3,490.2 570.9,498.0 566.1,515.4 534.6,507.5" fill="#2a2a30" stroke="none" stroke-width="0" stroke-linejoin="round" opacity="1"/>
<rect x="539.0" y="492.0" width="1.5" height="2.0" rx="0" fill="#8a8a90" opacity="1"/>
<rect x="543.3" y="493.1" width="1.5" height="2.0" rx="0" fill="#8a8a90" opacity="1"/>
<rect x="547.6" y="494.1" width="1.5" height="2.0" rx="0" fill="#8a8a90" opacity="1"/>
<rect x="551.9" y="495.2" width="1.5" height="2.0" rx="0" fill="#8a8a90" opacity="1"/>
<rect x="556.2" y="496.3" width="1.5" height="2.0" rx="0" fill="#8a8a90" opacity="1"/>
<rect x="560.5" y="497.4" width="1.5" height="2.0" rx="0" fill="#8a8a90" opacity="1"/>
<rect x="564.8" y="498.4" width="1.5" height="2.0" rx="0" fill="#8a8a90" opacity="1"/>
<rect x="539.0" y="496.5" width="1.5" height="2.0" rx="0" fill="#8a8a90" opacity="1"/>
<rect x="543.3" y="497.6" width="1.5" height="2.0" rx="0" fill="#8a8a90" opacity="1"/>
<rect x="547.6" y="498.6" width="1.5" height="2.0" rx="0" fill="#8a8a90" opacity="1"/>
<rect x="551.9" y="499.7" width="1.5" height="2.0" rx="0" fill="#8a8a90" opacity="1"/>
<rect x="556.2" y="500.8" width="1.5" height="2.0" rx="0" fill="#8a8a90" opacity="1"/>
<rect x="560.5" y="501.9" width="1.5" height="2.0" rx="0" fill="#8a8a90" opacity="1"/>
<rect x="564.8" y="502.9" width="1.5" height="2.0" rx="0" fill="#8a8a90" opacity="1"/>
<rect x="539.0" y="501.0" width="1.5" height="2.0" rx="0" fill="#8a8a90" opacity="1"/>
<rect x="543.3" y="502.1" width="1.5" height="2.0" rx="0" fill="#8a8a90" opacity="1"/>
<rect x="547.6" y="503.1" width="1.5" height="2.0" rx="0" fill="#8a8a90" opacity="1"/>
<rect x="551.9" y="504.2" width="1.5" height="2.0" rx="0" fill="#8a8a90" opacity="1"/>
<rect x="556.2" y="505.3" width="1.5" height="2.0" rx="0" fill="#8a8a90" opacity="1"/>
<rect x="560.5" y="506.4" width="1.5" height="2.0" rx="0" fill="#8a8a90" opacity="1"/>
<rect x="564.8" y="507.4" width="1.5" height="2.0" rx="0" fill="#8a8a90" opacity="1"/>
<rect x="539.0" y="505.5" width="1.5" height="2.0" rx="0" fill="#8a8a90" opacity="1"/>
<rect x="543.3" y="506.6" width="1.5" height="2.0" rx="0" fill="#8a8a90" opacity="1"/>
<rect x="547.6" y="507.6" width="1.5" height="2.0" rx="0" fill="#8a8a90" opacity="1"/>
<rect x="551.9" y="508.7" width="1.5" height="2.0" rx="0" fill="#8a8a90" opacity="1"/>
<rect x="556.2" y="509.8" width="1.5" height="2.0" rx="0" fill="#8a8a90" opacity="1"/>
<rect x="560.5" y="510.9" width="1.5" height="2.0" rx="0" fill="#8a8a90" opacity="1"/>
<rect x="564.8" y="511.9" width="1.5" height="2.0" rx="0" fill="#8a8a90" opacity="1"/>
<polygon points="584.0,435.2 597.5,436.8 582.0,485.5 577.3,486.7 570.3,478.5" fill="#a9b4ba" stroke="none" stroke-width="0" stroke-linejoin="round" opacity="1"/>
<polygon points="569.0,477.0 577.3,486.7 567.0,522.0 562.0,518.0" fill="#a8acac" stroke="none" stroke-width="0" stroke-linejoin="round" opacity="1"/>
<polygon points="507.8,498.9 568.0,514.0 566.0,525.0 504.7,517.5" fill="#9ea8ab" stroke="none" stroke-width="0" stroke-linejoin="round" opacity="1"/>
<polygon points="503.8,517.9 566.0,525.0 560.6,549.7 542.5,573.8 487.5,556.6" fill="#c8faf4" stroke="none" stroke-width="0" stroke-linejoin="round" opacity="1"/>
<polygon points="505.0,500.0 509.5,499.0 490.0,556.0 485.0,555.0" fill="#a4a4a6" stroke="none" stroke-width="0" stroke-linejoin="round" opacity="1"/>
<polygon points="521.0,509.0 534.0,512.0 534.0,526.0 521.0,523.0" fill="#f4efe6" stroke="none" stroke-width="0" stroke-linejoin="round" opacity="1"/>
<line x1="521.0" y1="512.0" x2="534.0" y2="515.0" stroke="#d08a48" stroke-width="0.8" opacity="1"/>
<line x1="521.0" y1="515.2" x2="534.0" y2="518.2" stroke="#d08a48" stroke-width="0.8" opacity="1"/>
<line x1="521.0" y1="518.4" x2="534.0" y2="521.4" stroke="#d08a48" stroke-width="0.8" opacity="1"/>
<line x1="521.0" y1="521.6" x2="534.0" y2="524.6" stroke="#d08a48" stroke-width="0.8" opacity="1"/>
<line x1="534.0" y1="510.0" x2="534.0" y2="527.0" stroke="#505868" stroke-width="0.9" opacity="1"/>
<polygon points="535.5,512.5 548.5,515.5 548.5,529.5 535.5,526.5" fill="#f4efe6" stroke="none" stroke-width="0" stroke-linejoin="round" opacity="1"/>
<line x1="535.5" y1="515.5" x2="548.5" y2="518.5" stroke="#d08a48" stroke-width="0.8" opacity="1"/>
<line x1="535.5" y1="518.7" x2="548.5" y2="521.7" stroke="#d08a48" stroke-width="0.8" opacity="1"/>
<line x1="535.5" y1="521.9" x2="548.5" y2="524.9" stroke="#d08a48" stroke-width="0.8" opacity="1"/>
<line x1="535.5" y1="525.1" x2="548.5" y2="528.1" stroke="#d08a48" stroke-width="0.8" opacity="1"/>
<line x1="548.5" y1="513.5" x2="548.5" y2="530.5" stroke="#505868" stroke-width="0.9" opacity="1"/>
<polygon points="550.0,516.0 563.0,519.0 563.0,533.0 550.0,530.0" fill="#f4efe6" stroke="none" stroke-width="0" stroke-linejoin="round" opacity="1"/>
<line x1="550.0" y1="519.0" x2="563.0" y2="522.0" stroke="#d08a48" stroke-width="0.8" opacity="1"/>
<line x1="550.0" y1="522.2" x2="563.0" y2="525.2" stroke="#d08a48" stroke-width="0.8" opacity="1"/>
<line x1="550.0" y1="525.4" x2="563.0" y2="528.4" stroke="#d08a48" stroke-width="0.8" opacity="1"/>
<line x1="550.0" y1="528.6" x2="563.0" y2="531.6" stroke="#d08a48" stroke-width="0.8" opacity="1"/>
<line x1="563.0" y1="517.0" x2="563.0" y2="534.0" stroke="#505868" stroke-width="0.9" opacity="1"/>
<line x1="520.0" y1="506.0" x2="520.0" y2="524.0" stroke="#505868" stroke-width="0.9" opacity="1"/>
<polygon points="516.0,530.0 521.0,531.0 505.0,562.0 500.0,561.0" fill="#f6f2ee" stroke="none" stroke-width="0" stroke-linejoin="round" opacity="1"/>
<line x1="521.0" y1="531.0" x2="505.0" y2="562.0" stroke="#b06820" stroke-width="1" opacity="1"/>
<line x1="513.9" y1="533.1" x2="519.9" y2="534.1" stroke="#3a6ab0" stroke-width="1.2" opacity="1"/>
<line x1="508.3" y1="544.0" x2="514.3" y2="545.0" stroke="#3a6ab0" stroke-width="1.2" opacity="1"/>
<line x1="502.7" y1="554.8" x2="508.7" y2="555.8" stroke="#3a6ab0" stroke-width="1.2" opacity="1"/>
<polygon points="533.0,534.0 538.0,535.0 522.0,571.0 517.0,570.0" fill="#f6f2ee" stroke="none" stroke-width="0" stroke-linejoin="round" opacity="1"/>
<line x1="538.0" y1="535.0" x2="522.0" y2="571.0" stroke="#b06820" stroke-width="1" opacity="1"/>
<line x1="530.9" y1="537.6" x2="536.9" y2="538.6" stroke="#3a6ab0" stroke-width="1.2" opacity="1"/>
<line x1="525.3" y1="550.2" x2="531.3" y2="551.2" stroke="#3a6ab0" stroke-width="1.2" opacity="1"/>
<line x1="519.7" y1="562.8" x2="525.7" y2="563.8" stroke="#3a6ab0" stroke-width="1.2" opacity="1"/>
<polygon points="550.0,533.0 555.0,534.0 538.0,576.0 533.0,575.0" fill="#f6f2ee" stroke="none" stroke-width="0" stroke-linejoin="round" opacity="1"/>
<line x1="555.0" y1="534.0" x2="538.0" y2="576.0" stroke="#b06820" stroke-width="1" opacity="1"/>
<line x1="547.8" y1="537.2" x2="553.8" y2="538.2" stroke="#3a6ab0" stroke-width="1.2" opacity="1"/>
<line x1="541.9" y1="551.9" x2="547.9" y2="552.9" stroke="#3a6ab0" stroke-width="1.2" opacity="1"/>
<line x1="535.9" y1="566.6" x2="541.9" y2="567.6" stroke="#3a6ab0" stroke-width="1.2" opacity="1"/>
<polygon points="481.5,554.9 540.8,575.5 540.8,582.0 479.8,582.0" fill="#ececec" stroke="none" stroke-width="0" stroke-linejoin="round" opacity="1"/>
<line x1="481.5" y1="554.9" x2="540.8" y2="575.5" stroke="#9a9a9a" stroke-width="0.7" opacity="1"/>
<polygon points="546.0,551.4 561.4,548.0 556.0,568.0 541.0,575.0" fill="#efefef" stroke="none" stroke-width="0" stroke-linejoin="round" opacity="1"/>
<line x1="577.3" y1="486.7" x2="561.0" y2="549.7" stroke="#f6f6f6" stroke-width="2.2" opacity="1"/>
<line x1="575.6" y1="486.2" x2="559.4" y2="549.2" stroke="#8a8e90" stroke-width="0.7" opacity="1"/>
<polygon points="539.5,447.0 549.0,448.5 555.0,451.0 555.0,456.5 547.0,455.0 540.0,452.5" fill="#c41010" stroke="none" stroke-width="0" stroke-linejoin="round" opacity="1"/>
<path d="M542.5,447 L545,438.5 L553,440.5 L555.5,450" fill="none" stroke="#333" stroke-width="1.2"/>
<line x1="560.0" y1="439.5" x2="556.0" y2="457.0" stroke="#1a1a1a" stroke-width="1.8" opacity="1"/>

</svg>
<div class="abs" style="left:253px;top:583px;width:406px;height:2px;background:#1c1c1c"></div>
<div class="abs" style="left:253px;top:583px;width:14px;height:2px;background:#3c8ee0"></div>
<!-- control bar -->
<svg class="abs" style="left:253px;top:585px" width="406" height="18" viewBox="253 585 406 18">
<defs>
<linearGradient id="pg" x1="0" y1="0" x2="0" y2="1"><stop offset="0" stop-color="#4b5157"/><stop offset="1" stop-color="#2c3135"/></linearGradient>
<radialGradient id="playg" cx="0.5" cy="0.35" r="0.7"><stop offset="0" stop-color="#6fb4f4"/><stop offset="0.5" stop-color="#1c6fd6"/><stop offset="1" stop-color="#0b3a96"/></radialGradient>
</defs>
<text x="368" y="597" font-family="Liberation Sans" font-size="5" fill="#b8bcc0">00:18</text>
<rect x="382" y="589" width="142" height="11.5" rx="5.7" fill="url(#pg)"/>
<rect x="430" y="590" width="50" height="9.5" rx="4.7" fill="none" stroke="#5a6066" stroke-width="0.6"/>
<path d="M393.5,591.8 L397.5,596.8 M397.5,591.8 L393.5,596.8" stroke="#e8e8e8" stroke-width="1.1"/>
<circle cx="407" cy="594.4" r="2.2" fill="none" stroke="#e8e8e8" stroke-width="1.1"/>
<line x1="414.4" y1="590" x2="414.4" y2="599.5" stroke="#222" stroke-width="0.6"/>
<rect x="420" y="592.5" width="4" height="4" fill="#f0f0f0"/>
<path d="M435,594.4 L438,592.2 L438,596.6 Z M438.3,594.4 L441.3,592.2 L441.3,596.6 Z" fill="#f0f0f0"/>
<circle cx="453.3" cy="594.5" r="8.2" fill="#15181b"/>
<circle cx="453.3" cy="594.5" r="7.1" fill="url(#playg)"/>
<path d="M451,590.8 L457.3,594.5 L451,598.2 Z" fill="#fff"/>
<path d="M465.5,592.2 L468.5,594.4 L465.5,596.6 Z M468.8,592.2 L471.8,594.4 L468.8,596.6 Z" fill="#f0f0f0"/>
<path d="M482,593.2 L483.5,593.2 L486,591.5 L486,597.3 L483.5,595.6 L482,595.6 Z" fill="#e8e8e8"/>
<line x1="494" y1="594.6" x2="518" y2="594.6" stroke="#5c6268" stroke-width="0.8"/>
<line x1="494" y1="594.6" x2="506" y2="594.6" stroke="#3f8fe6" stroke-width="0.9"/>
<circle cx="506.3" cy="594.6" r="1.9" fill="#4a9ef0"/>
</svg>
</body></html>
